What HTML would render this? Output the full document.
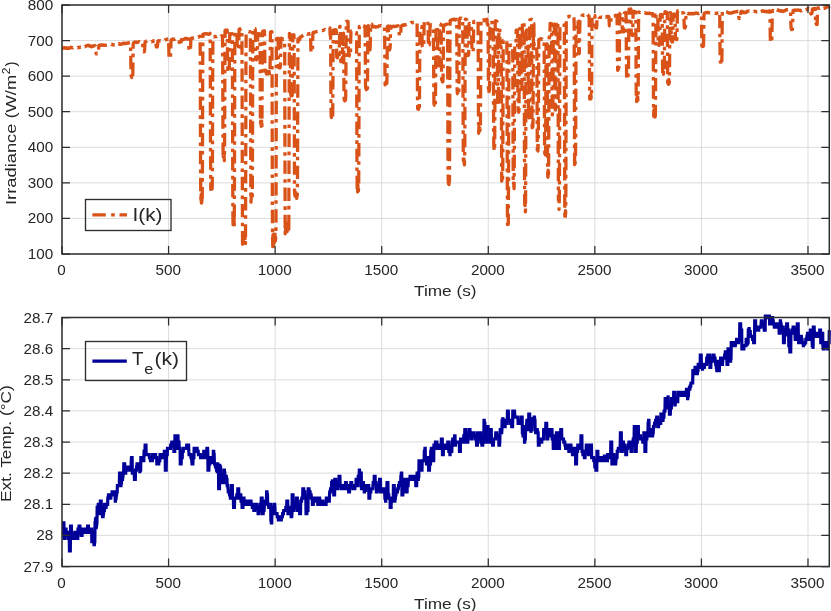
<!DOCTYPE html>
<html><head><meta charset="utf-8"><title>Irradiance and External Temperature</title>
<style>html,body{margin:0;padding:0;background:#fff;}body{width:831px;height:611px;overflow:hidden;font-family:"Liberation Sans",sans-serif;}</style>
</head><body>
<svg width="831" height="611" viewBox="0 0 831 611" style="display:block;will-change:transform"><rect x="0" y="0" width="831" height="611" fill="#fff"/><clipPath id="c1"><rect x="62.0" y="2.0" width="769.3" height="252.0"/></clipPath><clipPath id="c2"><rect x="62.0" y="314.5" width="769.3" height="252.0"/></clipPath><path d="M62.00 5.0V254.0M168.57 5.0V254.0M275.14 5.0V254.0M381.71 5.0V254.0M488.28 5.0V254.0M594.85 5.0V254.0M701.42 5.0V254.0M807.99 5.0V254.0M62.0 254.00H829.3M62.0 218.43H829.3M62.0 182.86H829.3M62.0 147.29H829.3M62.0 111.71H829.3M62.0 76.14H829.3M62.0 40.57H829.3M62.0 5.00H829.3" stroke="#dcdcdc" stroke-width="1" fill="none"/><g clip-path="url(#c1)"><polyline points="62.00,48.15 62.21,48.27 62.43,48.24 62.64,48.30 62.85,48.34 63.07,48.13 63.28,48.14 63.49,48.07 63.71,47.80 63.92,47.64 64.13,47.82 64.34,47.78 64.56,47.73 64.77,47.96 64.98,47.96 65.20,48.25 65.41,48.04 65.62,47.89 65.84,47.76 66.05,47.67 66.26,48.07 66.48,48.02 66.69,48.17 66.90,48.43 67.12,48.56 67.33,48.40 67.54,48.22 67.75,48.23 67.97,48.09 68.18,47.94 68.39,47.91 68.61,47.97 68.82,48.26 69.03,48.40 69.25,48.14 69.46,47.87 69.67,48.00 69.89,48.00 70.10,47.69 70.31,47.52 70.53,47.38 70.74,47.30 70.95,47.17 71.16,47.35 71.38,47.45 71.59,47.40 71.80,47.54 72.02,47.56 72.23,47.56 72.44,47.78 72.66,47.85 72.87,47.63 73.08,47.47 73.30,47.62 73.51,47.82 73.72,47.96 73.94,47.88 74.15,47.97 74.36,47.73 74.58,47.71 74.79,47.82 75.00,47.81 75.21,47.71 75.43,47.77 75.64,47.79 75.85,47.69 76.07,47.69 76.28,47.79 76.49,47.70 76.71,47.83 76.92,47.86 77.13,47.90 77.35,47.86 77.56,47.81 77.77,47.87 77.99,47.75 78.20,47.42 78.41,47.38 78.62,47.25 78.84,47.31 79.05,47.31 79.26,47.48 79.48,47.49 79.69,47.45 79.90,47.22 80.12,47.23 80.33,47.31 80.54,47.21 80.76,47.30 80.97,47.25 81.18,47.14 81.40,47.21 81.61,47.33 81.82,47.33 82.04,47.07 82.25,47.11 82.46,46.92 82.67,46.95 82.89,47.04 83.10,47.05 83.31,46.96 83.53,46.98 83.74,47.13 83.95,47.02 84.17,46.97 84.38,46.94 84.59,47.01 84.81,46.70 85.02,46.53 85.23,46.61 85.45,46.38 85.66,46.14 85.87,46.17 86.08,46.00 86.30,45.98 86.51,45.87 86.72,45.63 86.94,45.45 87.15,45.44 87.36,45.44 87.58,45.39 87.79,45.32 88.00,45.25 88.22,45.43 88.43,45.22 88.64,45.32 88.86,45.59 89.07,45.65 89.28,45.89 89.49,45.65 89.71,45.77 89.92,46.00 90.13,46.22 90.35,46.16 90.56,46.22 90.77,46.49 90.99,46.34 91.20,46.54 91.41,46.64 91.63,46.74 91.84,46.81 92.05,46.60 92.27,46.38 92.48,46.09 92.69,46.26 92.91,46.16 93.12,46.11 93.33,45.89 93.54,45.96 93.76,46.00 93.97,45.85 94.18,45.85 94.40,45.85 94.61,45.66 94.82,45.76 95.04,45.72 95.25,45.94 95.46,46.03 95.68,47.27 95.89,51.04 96.10,53.45 96.32,53.80 96.53,53.60 96.74,53.80 96.95,53.84 97.17,53.88 97.38,53.95 97.59,53.92 97.81,53.90 98.02,53.82 98.23,53.43 98.45,52.15 98.66,48.07 98.87,45.39 99.09,45.63 99.30,45.38 99.51,45.25 99.73,45.07 99.94,45.11 100.15,45.21 100.37,45.16 100.58,45.18 100.79,45.37 101.00,45.01 101.22,45.16 101.43,45.14 101.64,44.99 101.86,45.01 102.07,45.11 102.28,44.93 102.50,45.07 102.71,45.17 102.92,45.26 103.14,45.18 103.35,45.31 103.56,45.19 103.78,45.19 103.99,45.08 104.20,45.19 104.41,45.28 104.63,45.12 104.84,45.13 105.05,45.14 105.27,45.17 105.48,45.16 105.69,45.25 105.91,45.26 106.12,45.22 106.33,45.31 106.55,45.23 106.76,45.20 106.97,45.15 107.19,45.28 107.40,45.24 107.61,44.95 107.82,45.15 108.04,45.14 108.25,45.13 108.46,45.00 108.68,45.18 108.89,44.99 109.10,44.95 109.32,44.74 109.53,44.59 109.74,44.42 109.96,44.42 110.17,44.51 110.38,44.47 110.60,44.57 110.81,44.71 111.02,44.45 111.24,44.43 111.45,44.40 111.66,44.64 111.87,44.57 112.09,44.43 112.30,44.47 112.51,44.75 112.73,44.76 112.94,44.71 113.15,44.75 113.37,44.63 113.58,44.68 113.79,44.56 114.01,44.74 114.22,44.88 114.43,44.79 114.65,44.77 114.86,44.72 115.07,44.56 115.28,44.68 115.50,44.38 115.71,44.30 115.92,44.22 116.14,44.03 116.35,43.79 116.56,43.80 116.78,43.80 116.99,43.78 117.20,43.66 117.42,43.47 117.63,43.39 117.84,43.40 118.06,43.34 118.27,43.38 118.48,43.55 118.69,43.67 118.91,43.52 119.12,43.67 119.33,44.08 119.55,44.25 119.76,44.44 119.97,44.28 120.19,44.30 120.40,44.22 120.61,44.15 120.83,44.30 121.04,44.29 121.25,44.21 121.47,44.19 121.68,44.18 121.89,44.13 122.11,44.00 122.32,43.80 122.53,43.46 122.74,43.59 122.96,43.43 123.17,43.38 123.38,43.27 123.60,43.57 123.81,43.66 124.02,43.54 124.24,43.45 124.45,43.52 124.66,43.53 124.88,43.27 125.09,43.26 125.30,43.47 125.52,43.52 125.73,43.45 125.94,43.42 126.15,43.45 126.37,43.50 126.58,43.52 126.79,43.23 127.01,43.20 127.22,43.12 127.43,43.11 127.65,42.87 127.86,42.87 128.07,42.80 128.29,42.89 128.50,42.80 128.71,42.98 128.93,43.02 129.14,42.73 129.35,42.56 129.57,42.45 129.78,42.40 129.99,42.40 130.20,42.54 130.42,42.85 130.63,45.12 130.84,62.03 131.06,75.76 131.27,75.75 131.48,76.07 131.70,77.59 131.91,75.96 132.12,76.71 132.34,76.69 132.55,76.35 132.76,77.06 132.98,60.53 133.19,44.04 133.40,42.99 133.61,42.82 133.83,42.81 134.04,42.42 134.25,42.20 134.47,42.26 134.68,42.43 134.89,42.19 135.11,42.22 135.32,42.28 135.53,42.27 135.75,42.46 135.96,42.52 136.17,42.31 136.39,42.03 136.60,42.19 136.81,42.15 137.02,42.26 137.24,42.42 137.45,42.39 137.66,42.28 137.88,42.22 138.09,42.11 138.30,41.87 138.52,42.02 138.73,41.97 138.94,41.80 139.16,41.77 139.37,41.90 139.58,42.12 139.80,41.89 140.01,41.84 140.22,41.59 140.44,41.58 140.65,41.57 140.86,41.64 141.07,41.89 141.29,42.31 141.50,42.45 141.71,42.52 141.93,42.37 142.14,42.36 142.35,42.37 142.57,42.16 142.78,46.11 142.99,50.75 143.21,51.56 143.42,51.49 143.63,51.73 143.85,51.87 144.06,51.51 144.27,51.80 144.48,51.30 144.70,48.69 144.91,43.81 145.12,41.86 145.34,41.84 145.55,41.52 145.76,41.60 145.98,41.29 146.19,41.38 146.40,41.21 146.62,41.12 146.83,40.96 147.04,40.64 147.26,40.71 147.47,40.79 147.68,40.74 147.89,40.56 148.11,40.68 148.32,40.71 148.53,40.70 148.75,41.03 148.96,40.99 149.17,41.19 149.39,41.17 149.60,41.27 149.81,41.33 150.03,41.30 150.24,41.52 150.45,41.74 150.67,41.71 150.88,41.79 151.09,41.81 151.31,41.77 151.52,41.81 151.73,41.85 151.94,41.49 152.16,41.49 152.37,41.31 152.58,41.24 152.80,41.11 153.01,41.07 153.22,41.17 153.44,41.27 153.65,40.72 153.86,40.76 154.08,40.71 154.29,40.74 154.50,40.60 154.72,40.39 154.93,40.16 155.14,40.52 155.35,40.68 155.57,40.77 155.78,41.82 155.99,44.84 156.21,46.58 156.42,46.84 156.63,46.78 156.85,46.81 157.06,46.60 157.27,46.93 157.49,46.49 157.70,43.58 157.91,40.82 158.13,40.95 158.34,40.75 158.55,40.73 158.77,40.80 158.98,40.85 159.19,40.93 159.40,40.89 159.62,40.74 159.83,40.65 160.04,40.69 160.26,40.61 160.47,40.74 160.68,40.57 160.90,40.51 161.11,40.72 161.32,40.61 161.54,40.54 161.75,40.49 161.96,40.49 162.18,40.48 162.39,40.22 162.60,40.28 162.81,40.49 163.03,40.34 163.24,40.38 163.45,40.37 163.67,40.24 163.88,40.34 164.09,40.11 164.31,40.01 164.52,40.19 164.73,40.34 164.95,40.15 165.16,39.82 165.37,39.68 165.59,39.61 165.80,39.73 166.01,39.52 166.22,39.60 166.44,39.39 166.65,39.29 166.86,39.33 167.08,39.12 167.29,39.42 167.50,39.29 167.72,39.05 167.93,39.05 168.14,39.28 168.36,39.59 168.57,39.66 168.78,47.43 169.00,56.23 169.21,58.33 169.42,58.46 169.64,58.00 169.85,57.43 170.06,58.00 170.27,57.35 170.49,57.55 170.70,52.27 170.91,43.44 171.13,39.80 171.34,39.58 171.55,39.41 171.77,39.54 171.98,39.35 172.19,39.12 172.41,39.08 172.62,39.02 172.83,39.12 173.05,39.29 173.26,39.23 173.47,39.43 173.68,39.17 173.90,39.16 174.11,39.16 174.32,39.06 174.54,39.17 174.75,39.22 174.96,38.90 175.18,38.92 175.39,39.13 175.60,39.20 175.82,39.13 176.03,39.08 176.24,38.86 176.46,39.13 176.67,39.08 176.88,39.26 177.09,39.30 177.31,39.48 177.52,39.65 177.73,39.53 177.95,39.53 178.16,39.73 178.37,39.97 178.59,39.85 178.80,39.66 179.01,39.79 179.23,41.49 179.44,44.17 179.65,45.25 179.87,45.37 180.08,45.32 180.29,45.17 180.51,45.22 180.72,45.26 180.93,44.45 181.14,41.59 181.36,39.62 181.57,39.65 181.78,39.77 182.00,39.81 182.21,39.84 182.42,39.65 182.64,39.70 182.85,39.68 183.06,39.58 183.28,39.67 183.49,39.49 183.70,39.58 183.92,39.40 184.13,39.36 184.34,39.28 184.55,38.94 184.77,38.56 184.98,38.53 185.19,38.39 185.41,38.38 185.62,38.55 185.83,38.43 186.05,38.66 186.26,38.78 186.47,38.82 186.69,38.74 186.90,38.63 187.11,38.54 187.33,38.59 187.54,38.64 187.75,38.81 187.97,39.06 188.18,39.01 188.39,39.11 188.60,41.83 188.82,47.46 189.03,50.51 189.24,50.93 189.46,50.97 189.67,50.68 189.88,50.78 190.10,50.89 190.31,50.39 190.52,48.97 190.74,43.04 190.95,38.59 191.16,38.49 191.38,38.52 191.59,38.40 191.80,38.25 192.01,38.00 192.23,38.11 192.44,38.14 192.65,38.08 192.87,38.24 193.08,38.07 193.29,38.10 193.51,37.88 193.72,37.96 193.93,37.99 194.15,37.84 194.36,37.91 194.57,37.81 194.79,37.90 195.00,38.09 195.21,38.13 195.42,38.13 195.64,38.15 195.85,38.10 196.06,38.03 196.28,38.04 196.49,38.30 196.70,38.06 196.92,37.84 197.13,37.65 197.34,37.78 197.56,37.71 197.77,37.65 197.98,37.47 198.20,37.25 198.41,37.28 198.62,37.14 198.84,36.77 199.05,36.60 199.26,36.50 199.47,36.56 199.69,36.31 199.90,36.49 200.11,36.38 200.33,83.68 200.54,162.77 200.75,194.07 200.97,201.27 201.18,194.39 201.39,203.06 201.61,199.96 201.82,203.08 202.03,194.78 202.25,197.96 202.46,162.75 202.67,82.52 202.88,34.28 203.10,34.18 203.31,34.26 203.52,34.16 203.74,34.32 203.95,34.15 204.16,34.04 204.38,33.98 204.59,34.07 204.80,33.76 205.02,33.72 205.23,33.69 205.44,33.94 205.66,33.96 205.87,33.97 206.08,33.63 206.30,33.77 206.51,33.85 206.72,33.82 206.93,33.84 207.15,33.95 207.36,34.05 207.57,34.05 207.79,33.88 208.00,34.14 208.21,34.28 208.43,34.36 208.64,34.44 208.85,34.29 209.07,33.98 209.28,34.10 209.49,34.11 209.71,33.81 209.92,33.74 210.13,33.35 210.34,83.87 210.56,158.35 210.77,189.46 210.98,184.20 211.20,180.29 211.41,180.28 211.62,185.02 211.84,183.17 212.05,189.15 212.26,187.12 212.48,147.47 212.69,74.48 212.90,36.80 213.12,36.74 213.33,36.85 213.54,36.88 213.75,36.76 213.97,36.87 214.18,36.70 214.39,36.61 214.61,36.48 214.82,36.33 215.03,36.37 215.25,36.60 215.46,36.72 215.67,36.73 215.89,36.46 216.10,36.57 216.31,36.63 216.53,36.63 216.74,36.41 216.95,36.26 217.17,36.37 217.38,36.49 217.59,36.31 217.80,36.33 218.02,36.71 218.23,36.69 218.44,36.69 218.66,36.47 218.87,36.51 219.08,36.53 219.30,36.35 219.51,36.48 219.72,36.48 219.94,36.47 220.15,36.42 220.36,36.26 220.58,36.23 220.79,36.25 221.00,36.29 221.21,35.94 221.43,36.06 221.64,35.99 221.85,35.93 222.07,35.91 222.28,36.07 222.49,35.99 222.71,65.77 222.92,125.86 223.13,158.53 223.35,155.03 223.56,160.65 223.77,160.37 223.99,153.25 224.20,157.52 224.41,160.56 224.62,140.48 224.84,77.91 225.05,30.40 225.26,30.31 225.48,30.15 225.69,30.07 225.90,30.20 226.12,30.06 226.33,30.03 226.54,30.18 226.76,30.33 226.97,30.26 227.18,30.18 227.40,39.14 227.61,58.90 227.82,69.41 228.04,69.24 228.25,71.00 228.46,69.79 228.67,70.26 228.89,70.49 229.10,70.79 229.31,66.58 229.53,48.57 229.74,33.86 229.95,33.75 230.17,33.85 230.38,34.08 230.59,34.09 230.81,34.03 231.02,33.98 231.23,33.88 231.45,34.02 231.66,33.79 231.87,33.70 232.08,33.65 232.30,33.74 232.51,82.39 232.72,175.62 232.94,217.94 233.15,227.96 233.36,221.03 233.58,224.79 233.79,223.43 234.00,217.41 234.22,227.27 234.43,195.59 234.64,101.15 234.86,31.60 235.07,31.79 235.28,31.86 235.50,31.69 235.71,31.74 235.92,31.74 236.13,31.87 236.35,32.08 236.56,32.25 236.77,32.04 236.99,35.57 237.20,44.13 237.41,48.84 237.63,48.82 237.84,49.52 238.05,49.97 238.27,49.72 238.48,48.94 238.69,48.05 238.91,38.16 239.12,29.17 239.33,29.24 239.54,29.27 239.76,29.12 239.97,29.24 240.18,29.19 240.40,28.98 240.61,29.12 240.82,28.91 241.04,28.60 241.25,28.41 241.46,28.41 241.68,28.39 241.89,28.50 242.10,77.84 242.32,180.86 242.53,244.19 242.74,233.42 242.95,235.70 243.17,242.42 243.38,243.46 243.59,233.09 243.81,237.48 244.02,240.64 244.23,232.66 244.45,234.47 244.66,234.47 244.87,239.01 245.09,241.03 245.30,238.85 245.51,243.49 245.73,162.42 245.94,61.13 246.15,32.04 246.37,31.79 246.58,31.80 246.79,31.85 247.00,31.83 247.22,31.81 247.43,31.63 247.64,31.44 247.86,31.61 248.07,31.38 248.28,31.43 248.50,31.40 248.71,31.55 248.92,31.56 249.14,31.65 249.35,31.76 249.56,31.79 249.78,31.53 249.99,31.55 250.20,31.82 250.41,37.53 250.63,119.47 250.84,201.27 251.05,202.16 251.27,196.65 251.48,195.08 251.69,193.92 251.91,194.15 252.12,200.11 252.33,195.51 252.55,127.77 252.76,44.39 252.97,28.63 253.19,28.58 253.40,28.40 253.61,28.23 253.82,28.31 254.04,28.32 254.25,28.43 254.46,28.51 254.68,28.72 254.89,28.79 255.10,28.75 255.32,30.17 255.53,44.89 255.74,59.53 255.96,58.73 256.17,57.83 256.38,59.89 256.60,58.78 256.81,59.01 257.02,58.29 257.24,58.42 257.45,48.25 257.66,35.73 257.87,33.54 258.09,33.59 258.30,33.54 258.51,33.40 258.73,33.53 258.94,33.62 259.15,33.71 259.37,33.93 259.58,33.99 259.79,33.86 260.01,35.22 260.22,79.48 260.43,123.73 260.65,121.24 260.86,126.39 261.07,122.64 261.28,126.41 261.50,124.73 261.71,121.08 261.92,127.36 262.14,87.42 262.35,41.92 262.56,31.35 262.78,31.43 262.99,31.46 263.20,31.23 263.42,31.18 263.63,30.99 263.84,31.11 264.06,31.10 264.27,30.98 264.48,30.92 264.70,44.82 264.91,65.22 265.12,73.45 265.33,71.12 265.55,71.23 265.76,71.70 265.97,72.77 266.19,71.55 266.40,73.61 266.61,73.98 266.83,71.70 267.04,71.25 267.25,73.78 267.47,72.95 267.68,73.23 267.89,72.73 268.11,73.93 268.32,72.31 268.53,73.50 268.74,71.16 268.96,72.07 269.17,71.38 269.38,73.49 269.60,71.39 269.81,71.50 270.02,71.78 270.24,51.82 270.45,32.05 270.66,32.03 270.88,31.83 271.09,31.71 271.30,31.70 271.52,31.63 271.73,31.58 271.94,31.67 272.15,105.78 272.37,207.80 272.58,239.34 272.79,246.70 273.01,232.69 273.22,243.56 273.43,246.22 273.65,234.20 273.86,237.90 274.07,243.05 274.29,235.26 274.50,236.01 274.71,241.15 274.93,232.34 275.14,241.26 275.35,240.92 275.57,239.90 275.78,235.68 275.99,227.52 276.20,127.47 276.42,35.57 276.63,35.75 276.84,35.95 277.06,36.17 277.27,36.03 277.48,36.18 277.70,36.10 277.91,35.98 278.12,41.09 278.34,56.28 278.55,66.33 278.76,67.70 278.98,67.74 279.19,66.94 279.40,67.89 279.61,67.97 279.83,67.99 280.04,67.69 280.25,65.94 280.47,66.62 280.68,56.01 280.89,42.03 281.11,38.26 281.32,38.42 281.53,38.45 281.75,38.34 281.96,38.48 282.17,38.57 282.39,38.67 282.60,38.94 282.81,38.97 283.03,39.04 283.24,39.26 283.45,39.34 283.66,39.21 283.88,39.28 284.09,39.19 284.30,39.50 284.52,39.47 284.73,52.54 284.94,145.23 285.16,233.76 285.37,226.51 285.58,226.21 285.80,231.44 286.01,227.76 286.22,233.87 286.44,228.79 286.65,232.73 286.86,224.76 287.07,231.70 287.29,223.08 287.50,226.85 287.71,230.40 287.93,223.58 288.14,223.47 288.35,227.88 288.57,223.98 288.78,231.76 288.99,170.77 289.21,75.21 289.42,33.32 289.63,33.65 289.85,33.83 290.06,33.95 290.27,34.24 290.48,61.40 290.70,92.46 290.91,99.03 291.12,97.81 291.34,95.55 291.55,97.96 291.76,99.22 291.98,99.22 292.19,98.24 292.40,77.93 292.62,47.09 292.83,34.95 293.04,35.06 293.26,35.14 293.47,35.06 293.68,34.92 293.90,34.66 294.11,38.02 294.32,115.90 294.53,193.67 294.75,191.18 294.96,195.98 295.17,193.31 295.39,192.06 295.60,190.67 295.81,194.17 296.03,197.26 296.24,193.81 296.45,197.16 296.67,198.38 296.88,195.05 297.09,196.20 297.31,195.65 297.52,174.90 297.73,99.00 297.94,38.84 298.16,38.81 298.37,39.09 298.58,39.26 298.80,39.25 299.01,39.34 299.22,39.46 299.44,39.56 299.65,39.73 299.86,39.62 300.08,37.07 300.29,37.08 300.50,36.83 300.72,36.73 300.93,36.63 301.14,36.71 301.35,36.62 301.57,36.42 301.78,36.21 301.99,36.23 302.21,36.34 302.42,35.93 302.63,35.73 302.85,35.40 303.06,35.37 303.27,34.97 303.49,34.86 303.70,34.75 303.91,34.75 304.13,34.63 304.34,34.56 304.55,34.49 304.77,34.47 304.98,34.35 305.19,34.34 305.40,33.97 305.62,34.25 305.83,34.01 306.04,34.04 306.26,33.93 306.47,34.13 306.68,33.85 306.90,33.97 307.11,33.77 307.32,33.99 307.54,33.96 307.75,33.88 307.96,33.83 308.18,34.08 308.39,34.04 308.60,33.89 308.81,33.82 309.03,34.11 309.24,33.94 309.45,34.08 309.67,33.81 309.88,33.92 310.09,33.69 310.31,33.72 310.52,34.33 310.73,42.98 310.95,51.84 311.16,51.10 311.37,51.12 311.59,51.80 311.80,51.52 312.01,51.59 312.23,51.27 312.44,51.42 312.65,43.26 312.86,34.08 313.08,32.47 313.29,32.39 313.50,32.34 313.72,32.25 313.93,32.41 314.14,32.26 314.36,32.25 314.57,32.21 314.78,32.08 315.00,32.11 315.21,32.10 315.42,32.06 315.64,31.92 315.85,31.76 316.06,31.69 316.27,31.69 316.49,31.73 316.70,31.69 316.91,31.45 317.13,31.32 317.34,31.31 317.55,31.30 317.77,31.26 317.98,31.14 318.19,31.04 318.41,31.15 318.62,31.04 318.83,31.25 319.05,31.24 319.26,31.19 319.47,31.27 319.68,31.14 319.90,31.00 320.11,31.24 320.32,31.25 320.54,31.33 320.75,31.25 320.96,31.22 321.18,31.06 321.39,30.86 321.60,30.87 321.82,30.83 322.03,30.61 322.24,30.56 322.46,30.69 322.67,30.53 322.88,30.40 323.10,30.46 323.31,30.30 323.52,30.23 323.73,29.88 323.95,29.90 324.16,29.78 324.37,29.68 324.59,29.65 324.80,29.52 325.01,29.69 325.23,29.70 325.44,29.75 325.65,29.40 325.87,29.31 326.08,29.38 326.29,29.17 326.51,29.00 326.72,28.93 326.93,28.86 327.14,28.67 327.36,28.70 327.57,28.53 327.78,28.48 328.00,28.34 328.21,28.19 328.42,27.98 328.64,27.98 328.85,28.05 329.06,28.07 329.28,28.04 329.49,28.18 329.70,28.23 329.92,27.91 330.13,35.27 330.34,35.16 330.56,35.02 330.77,66.17 330.98,105.33 331.19,115.61 331.41,117.55 331.62,115.68 331.83,112.81 332.05,116.39 332.26,113.20 332.47,113.61 332.69,117.63 332.90,88.63 333.11,47.06 333.33,30.03 333.54,29.98 333.75,30.04 333.97,29.92 334.18,29.99 334.39,29.95 334.60,30.06 334.82,30.19 335.03,30.08 335.24,29.98 335.46,29.73 335.67,29.63 335.88,29.71 336.10,29.99 336.31,30.31 336.52,43.71 336.74,57.12 336.95,56.24 337.16,56.91 337.38,57.77 337.59,56.85 337.80,57.65 338.01,57.42 338.23,57.79 338.44,55.93 338.65,56.89 338.87,56.84 339.08,57.41 339.29,54.93 339.51,39.88 339.72,26.36 339.93,26.60 340.15,26.53 340.36,39.11 340.57,55.88 340.79,61.58 341.00,61.35 341.21,59.77 341.43,61.39 341.64,60.50 341.85,60.41 342.06,60.51 342.28,61.29 342.49,53.12 342.70,39.79 342.92,33.74 343.13,33.53 343.34,33.32 343.56,33.25 343.77,59.60 343.98,92.55 344.20,101.84 344.41,99.06 344.62,100.44 344.84,100.85 345.05,100.83 345.26,100.21 345.47,100.15 345.69,97.89 345.90,75.62 346.11,36.85 346.33,21.33 346.54,21.39 346.75,21.35 346.97,21.13 347.18,21.34 347.39,21.41 347.61,21.54 347.82,21.63 348.03,21.53 348.25,32.54 348.46,48.99 348.67,55.31 348.88,55.56 349.10,53.81 349.31,54.09 349.52,55.96 349.74,55.65 349.95,54.74 350.16,54.81 350.38,55.51 350.59,48.29 350.80,36.49 351.02,31.07 351.23,31.06 351.44,30.97 351.66,31.05 351.87,31.24 352.08,31.35 352.30,31.39 352.51,31.36 352.72,31.41 352.93,31.37 353.15,31.76 353.36,31.74 353.57,31.90 353.79,31.95 354.00,31.88 354.21,31.88 354.43,32.04 354.64,32.34 354.85,32.31 355.07,32.06 355.28,32.13 355.49,32.02 355.71,32.35 355.92,32.55 356.13,32.76 356.34,32.66 356.56,32.60 356.77,94.48 356.98,171.32 357.20,189.51 357.41,183.98 357.62,191.96 357.84,184.68 358.05,193.90 358.26,191.84 358.48,189.77 358.69,183.37 358.90,137.91 359.12,57.98 359.33,26.29 359.54,26.42 359.76,26.52 359.97,26.39 360.18,26.18 360.39,26.00 360.61,26.16 360.82,26.17 361.03,26.64 361.25,26.96 361.46,26.82 361.67,26.70 361.89,26.55 362.10,26.71 362.31,26.83 362.53,26.88 362.74,26.53 362.95,26.53 363.17,26.13 363.38,26.20 363.59,26.36 363.80,26.42 364.02,26.32 364.23,26.04 364.44,25.96 364.66,26.16 364.87,26.26 365.08,26.35 365.30,54.53 365.51,85.20 365.72,88.38 365.94,88.17 366.15,89.02 366.36,89.69 366.58,88.25 366.79,90.10 367.00,87.36 367.21,87.04 367.43,88.68 367.64,63.18 367.85,32.18 368.07,25.54 368.28,25.71 368.49,30.66 368.71,42.21 368.92,48.43 369.13,48.63 369.35,49.67 369.56,49.19 369.77,49.16 369.99,49.87 370.20,47.27 370.41,35.29 370.63,24.55 370.84,24.38 371.05,24.40 371.26,24.56 371.48,24.31 371.69,24.22 371.90,24.22 372.12,26.88 372.33,26.65 372.54,26.69 372.76,26.49 372.97,26.56 373.18,26.76 373.40,26.69 373.61,26.75 373.82,26.68 374.04,26.62 374.25,26.58 374.46,26.51 374.67,26.51 374.89,26.55 375.10,26.68 375.31,26.75 375.53,27.16 375.74,27.05 375.95,27.15 376.17,27.03 376.38,26.84 376.59,26.88 376.81,26.79 377.02,26.73 377.23,26.73 377.45,26.56 377.66,26.61 377.87,26.54 378.08,26.70 378.30,26.53 378.51,26.46 378.72,26.17 378.94,25.94 379.15,25.91 379.36,26.03 379.58,25.96 379.79,25.92 380.00,25.78 380.22,25.77 380.43,25.81 380.64,25.72 380.86,25.60 381.07,25.78 381.28,25.58 381.50,25.66 381.71,25.80 381.92,25.87 382.13,26.06 382.35,25.95 382.56,25.91 382.77,26.11 382.99,26.19 383.20,26.07 383.41,26.29 383.63,26.27 383.84,26.54 384.05,26.43 384.27,26.16 384.48,26.22 384.69,38.32 384.91,66.43 385.12,84.94 385.33,83.72 385.54,85.07 385.76,84.82 385.97,84.44 386.18,81.47 386.40,82.15 386.61,82.74 386.82,83.36 387.04,74.12 387.25,46.01 387.46,26.44 387.68,26.18 387.89,26.30 388.10,26.28 388.32,25.96 388.53,32.77 388.74,44.19 388.96,49.16 389.17,49.89 389.38,48.68 389.59,49.96 389.81,48.81 390.02,48.61 390.23,45.56 390.45,34.31 390.66,26.24 390.87,26.33 391.09,26.47 391.30,26.49 391.51,26.76 391.73,26.82 391.94,26.75 392.15,26.73 392.37,26.95 392.58,26.72 392.79,26.75 393.00,26.61 393.22,26.31 393.43,26.12 393.64,26.06 393.86,26.33 394.07,26.57 394.28,26.37 394.50,26.40 394.71,26.47 394.92,26.44 395.14,26.38 395.35,26.45 395.56,26.36 395.78,26.45 395.99,26.18 396.20,26.18 396.41,26.36 396.63,26.29 396.84,26.28 397.05,25.91 397.27,25.89 397.48,25.94 397.69,25.97 397.91,25.91 398.12,25.78 398.33,25.89 398.55,26.09 398.76,26.21 398.97,27.72 399.19,32.32 399.40,35.58 399.61,35.65 399.83,35.32 400.04,35.59 400.25,35.15 400.46,35.34 400.68,35.10 400.89,30.52 401.10,26.19 401.32,26.29 401.53,26.14 401.74,25.75 401.96,25.48 402.17,25.34 402.38,25.16 402.60,25.01 402.81,24.98 403.02,24.98 403.24,24.81 403.45,24.90 403.66,25.32 403.87,25.34 404.09,25.17 404.30,24.95 404.51,24.62 404.73,24.75 404.94,24.65 405.15,24.61 405.37,24.59 405.58,24.82 405.79,24.86 406.01,24.87 406.22,24.84 406.43,24.66 406.65,24.67 406.86,24.31 407.07,24.09 407.29,24.00 407.50,23.78 407.71,23.97 407.92,23.76 408.14,23.95 408.35,24.01 408.56,23.88 408.78,23.56 408.99,23.61 409.20,23.25 409.42,22.92 409.63,22.93 409.84,22.85 410.06,22.90 410.27,23.01 410.48,23.03 410.70,22.82 410.91,22.67 411.12,22.51 411.33,22.39 411.55,22.32 411.76,22.34 411.97,22.42 412.19,22.38 412.40,22.57 412.61,22.79 412.83,22.77 413.04,22.51 413.25,22.48 413.47,22.58 413.68,22.66 413.89,22.82 414.11,22.87 414.32,22.97 414.53,22.87 414.74,22.75 414.96,22.73 415.17,22.90 415.38,22.96 415.60,23.11 415.81,23.00 416.02,22.78 416.24,22.93 416.45,22.97 416.66,22.80 416.88,22.82 417.09,22.79 417.30,61.82 417.52,102.81 417.73,108.86 417.94,107.12 418.16,106.10 418.37,108.37 418.58,109.29 418.79,105.79 419.01,105.66 419.22,109.15 419.43,107.08 419.65,73.31 419.86,34.29 420.07,27.02 420.29,27.11 420.50,26.84 420.71,26.79 420.93,26.84 421.14,26.77 421.35,26.75 421.57,26.69 421.78,26.61 421.99,35.63 422.20,45.81 422.42,46.91 422.63,47.48 422.84,47.81 423.06,47.25 423.27,46.99 423.48,47.18 423.70,46.66 423.91,38.38 424.12,25.65 424.34,21.01 424.55,21.07 424.76,21.17 424.98,21.34 425.19,21.50 425.40,21.53 425.61,21.37 425.83,21.52 426.04,21.76 426.25,21.60 426.47,21.69 426.68,21.73 426.89,21.69 427.11,21.62 427.32,21.61 427.53,21.76 427.75,21.79 427.96,21.64 428.17,30.98 428.39,42.51 428.60,45.14 428.81,44.40 429.03,45.85 429.24,44.58 429.45,44.69 429.66,40.70 429.88,30.76 430.09,25.04 430.30,25.02 430.52,25.00 430.73,24.85 430.94,24.72 431.16,24.79 431.37,24.97 431.58,25.06 431.80,25.08 432.01,25.05 432.22,25.27 432.44,25.18 432.65,25.31 432.86,25.43 433.07,25.58 433.29,25.65 433.50,34.83 433.71,72.84 433.93,103.40 434.14,104.19 434.35,105.18 434.57,103.91 434.78,102.67 434.99,104.18 435.21,104.34 435.42,104.83 435.63,82.52 435.85,44.81 436.06,26.16 436.27,26.26 436.49,26.21 436.70,26.48 436.91,26.58 437.12,26.41 437.34,26.46 437.55,39.65 437.76,58.43 437.98,64.31 438.19,64.51 438.40,65.05 438.62,65.83 438.83,63.81 439.04,64.47 439.26,56.18 439.47,36.28 439.68,24.15 439.90,24.05 440.11,24.19 440.32,24.17 440.53,24.07 440.75,24.07 440.96,24.05 441.17,33.60 441.39,61.02 441.60,80.89 441.81,79.97 442.03,80.51 442.24,78.54 442.45,81.92 442.67,80.45 442.88,81.84 443.09,76.67 443.31,49.68 443.52,25.29 443.73,25.17 443.94,25.17 444.16,25.03 444.37,24.95 444.58,24.96 444.80,25.12 445.01,25.09 445.22,25.05 445.44,24.69 445.65,24.35 445.86,24.29 446.08,24.31 446.29,24.36 446.50,24.48 446.72,24.17 446.93,24.28 447.14,24.12 447.36,24.43 447.57,24.46 447.78,90.12 447.99,167.28 448.21,179.82 448.42,183.73 448.63,177.76 448.85,181.49 449.06,184.56 449.27,176.83 449.49,181.31 449.70,131.79 449.91,52.64 450.13,20.53 450.34,20.54 450.55,20.26 450.77,20.30 450.98,20.39 451.19,20.29 451.40,20.08 451.62,19.90 451.83,19.84 452.04,19.64 452.26,19.56 452.47,19.56 452.68,19.65 452.90,19.48 453.11,19.59 453.32,19.27 453.54,19.46 453.75,19.46 453.96,19.25 454.18,19.16 454.39,19.38 454.60,19.46 454.81,19.79 455.03,20.05 455.24,20.07 455.45,19.89 455.67,19.68 455.88,19.50 456.09,19.59 456.31,19.32 456.52,19.45 456.73,25.09 456.95,60.80 457.16,89.89 457.37,93.74 457.59,90.42 457.80,94.47 458.01,93.01 458.23,92.13 458.44,91.78 458.65,91.30 458.86,92.53 459.08,56.44 459.29,20.29 459.50,18.91 459.72,18.59 459.93,18.19 460.14,18.29 460.36,18.33 460.57,18.49 460.78,18.34 461.00,18.24 461.21,18.08 461.42,18.13 461.64,18.31 461.85,18.31 462.06,18.13 462.27,17.98 462.49,17.91 462.70,17.84 462.91,55.84 463.13,126.99 463.34,162.08 463.55,164.14 463.77,162.28 463.98,159.00 464.19,160.15 464.41,164.87 464.62,159.55 464.83,140.65 465.05,70.20 465.26,19.20 465.47,19.46 465.69,19.60 465.90,19.31 466.11,19.45 466.32,19.48 466.54,19.59 466.75,19.70 466.96,24.84 467.18,42.07 467.39,53.81 467.60,55.70 467.82,53.76 468.03,53.76 468.24,55.33 468.46,54.24 468.67,54.62 468.88,39.08 469.10,23.90 469.31,23.45 469.52,23.35 469.73,23.67 469.95,23.47 470.16,23.42 470.37,23.38 470.59,23.35 470.80,23.34 471.01,23.35 471.23,23.53 471.44,23.52 471.65,33.37 471.87,46.75 472.08,50.29 472.29,51.19 472.51,50.40 472.72,49.89 472.93,50.28 473.14,51.31 473.36,44.67 473.57,30.13 473.78,21.37 474.00,21.39 474.21,21.40 474.42,21.31 474.64,21.46 474.85,21.48 475.06,21.48 475.28,21.44 475.49,21.35 475.70,21.40 475.92,21.43 476.13,21.56 476.34,21.50 476.56,21.57 476.77,21.74 476.98,22.05 477.19,22.08 477.41,21.96 477.62,21.76 477.83,21.54 478.05,21.25 478.26,61.33 478.47,114.78 478.69,133.29 478.90,126.79 479.11,129.43 479.33,130.64 479.54,130.57 479.75,127.56 479.97,130.73 480.18,128.30 480.39,129.28 480.60,94.55 480.82,40.26 481.03,19.45 481.24,19.54 481.46,19.80 481.67,20.11 481.88,20.31 482.10,20.30 482.31,20.23 482.52,20.14 482.74,20.21 482.95,20.01 483.16,19.95 483.38,20.08 483.59,20.22 483.80,20.49 484.01,20.78 484.23,20.73 484.44,20.60 484.65,20.25 484.87,20.00 485.08,19.80 485.29,19.63 485.51,19.61 485.72,19.50 485.93,19.50 486.15,19.78 486.36,19.69 486.57,19.74 486.79,19.45 487.00,19.32 487.21,23.84 487.43,23.73 487.64,23.67 487.85,24.02 488.06,26.19 488.28,59.88 488.49,93.57 488.70,92.89 488.92,90.72 489.13,91.56 489.34,90.18 489.56,85.85 489.77,51.38 489.98,22.24 490.20,22.41 490.41,22.46 490.62,22.69 490.84,22.75 491.05,22.47 491.26,22.60 491.47,22.67 491.69,22.79 491.90,22.60 492.11,22.60 492.33,22.50 492.54,22.66 492.75,22.62 492.97,22.55 493.18,22.96 493.39,64.71 493.61,127.18 493.82,146.40 494.03,148.57 494.25,151.42 494.46,147.83 494.67,146.03 494.89,99.66 495.10,36.26 495.31,20.81 495.52,20.83 495.74,20.77 495.95,20.85 496.16,21.16 496.38,20.99 496.59,21.12 496.80,21.09 497.02,21.32 497.23,36.20 497.44,75.78 497.66,104.81 497.87,102.73 498.08,100.32 498.30,104.42 498.51,86.65 498.72,50.56 498.93,28.90 499.15,28.86 499.36,28.70 499.57,28.51 499.79,28.22 500.00,46.40 500.21,46.30 500.43,46.50 500.64,46.57 500.85,46.49 501.07,46.50 501.28,55.42 501.49,121.90 501.71,181.16 501.92,178.41 502.13,179.63 502.34,181.57 502.56,182.00 502.77,163.47 502.98,94.03 503.20,40.40 503.41,40.47 503.62,40.25 503.84,40.38 504.05,40.51 504.26,40.52 504.48,40.64 504.69,40.70 504.90,40.86 505.12,41.15 505.33,41.28 505.54,41.17 505.76,41.42 505.97,41.30 506.18,41.47 506.39,41.30 506.61,41.08 506.82,40.99 507.03,75.61 507.25,163.74 507.46,224.60 507.67,222.24 507.89,219.94 508.10,219.89 508.31,224.23 508.53,176.13 508.74,90.27 508.95,45.26 509.17,45.43 509.38,45.27 509.59,45.36 509.80,45.63 510.02,45.50 510.23,45.59 510.44,45.51 510.66,45.54 510.87,45.44 511.08,45.18 511.30,45.11 511.51,45.14 511.72,45.25 511.94,45.34 512.15,45.27 512.36,45.25 512.58,45.48 512.79,58.13 513.00,127.17 513.22,181.34 513.43,184.48 513.64,183.25 513.85,185.22 514.07,188.69 514.28,165.14 514.49,96.06 514.71,45.61 514.92,45.45 515.13,45.16 515.35,45.51 515.56,45.44 515.77,45.31 515.99,45.32 516.20,30.21 516.41,30.18 516.63,30.23 516.84,30.23 517.05,30.00 517.26,30.04 517.48,30.26 517.69,56.84 517.90,96.87 518.12,111.20 518.33,110.49 518.54,112.43 518.76,109.52 518.97,114.66 519.18,79.84 519.40,38.78 519.61,28.51 519.82,28.47 520.04,28.50 520.25,28.37 520.46,28.49 520.67,31.77 520.89,61.00 521.10,89.50 521.31,89.08 521.53,89.25 521.74,89.23 521.95,81.93 522.17,49.76 522.38,22.00 522.59,22.09 522.81,22.04 523.02,21.86 523.23,21.81 523.45,22.03 523.66,21.88 523.87,21.78 524.09,21.64 524.30,84.80 524.51,175.46 524.72,204.91 524.94,205.58 525.15,205.05 525.36,211.86 525.58,208.55 525.79,135.99 526.00,49.49 526.22,30.64 526.43,30.44 526.64,30.03 526.86,29.96 527.07,30.08 527.28,30.09 527.50,30.00 527.71,30.07 527.92,30.15 528.13,66.27 528.35,107.88 528.56,114.15 528.77,117.26 528.99,111.59 529.20,117.90 529.41,71.33 529.63,24.92 529.84,19.73 530.05,19.67 530.27,19.69 530.48,19.64 530.69,19.68 530.91,19.48 531.12,19.37 531.33,19.34 531.54,19.15 531.76,70.30 531.97,122.90 532.18,127.78 532.40,126.09 532.61,122.74 532.82,127.02 533.04,121.26 533.25,70.91 533.46,23.56 533.68,23.64 533.89,23.58 534.10,49.44 534.32,49.57 534.53,49.66 534.74,49.62 534.96,49.54 535.17,49.41 535.38,49.28 535.59,49.06 535.81,49.23 536.02,49.15 536.23,49.14 536.45,49.11 536.66,49.04 536.87,54.25 537.09,102.64 537.30,151.14 537.51,145.68 537.73,146.91 537.94,151.03 538.15,146.47 538.37,135.01 538.58,82.17 538.79,39.85 539.00,39.57 539.22,39.41 539.43,39.30 539.64,39.15 539.86,39.14 540.07,38.97 540.28,38.77 540.50,38.69 540.71,38.78 540.92,38.88 541.14,38.81 541.35,38.89 541.56,39.11 541.78,39.24 541.99,39.05 542.20,39.19 542.42,39.52 542.63,39.31 542.84,39.38 543.05,39.27 543.27,39.24 543.48,39.28 543.69,39.40 543.91,39.32 544.12,39.15 544.33,86.73 544.55,141.91 544.76,154.46 544.97,155.43 545.19,151.16 545.40,154.82 545.61,152.77 545.83,99.70 546.04,46.68 546.25,43.82 546.46,43.93 546.68,43.91 546.89,43.80 547.10,43.84 547.32,94.39 547.53,158.83 547.74,176.67 547.96,177.18 548.17,170.12 548.38,175.49 548.60,172.83 548.81,113.40 549.02,45.53 549.24,36.70 549.45,36.69 549.66,36.68 549.87,36.62 550.09,23.48 550.30,23.40 550.51,23.45 550.73,23.47 550.94,23.57 551.15,23.64 551.37,23.72 551.58,23.62 551.79,52.72 552.01,96.02 552.22,114.88 552.43,114.85 552.65,111.46 552.86,110.06 553.07,80.62 553.29,37.79 553.50,24.59 553.71,24.57 553.92,24.56 554.14,24.18 554.35,24.15 554.56,46.46 554.78,88.10 554.99,108.76 555.20,109.41 555.42,110.00 555.63,108.33 555.84,83.38 556.06,40.62 556.27,21.57 556.48,21.52 556.70,21.68 556.91,21.69 557.12,21.61 557.33,21.48 557.55,21.36 557.76,21.39 557.97,31.52 558.19,120.67 558.40,200.15 558.61,197.03 558.83,199.91 559.04,209.44 559.25,204.64 559.47,182.59 559.68,95.34 559.89,25.27 560.11,25.25 560.32,25.51 560.53,25.61 560.75,25.74 560.96,25.52 561.17,25.32 561.38,25.10 561.60,25.12 561.81,24.98 562.02,25.18 562.24,25.14 562.45,25.26 562.66,25.35 562.88,25.33 563.09,25.34 563.30,25.37 563.52,25.17 563.73,25.15 563.94,24.90 564.16,25.04 564.37,33.17 564.58,126.03 564.79,218.77 565.01,218.26 565.22,218.98 565.43,210.65 565.65,213.99 565.86,193.78 566.07,97.37 566.29,17.41 566.50,17.35 566.71,17.25 566.93,17.45 567.14,17.47 567.35,17.29 567.57,17.13 567.78,17.09 567.99,16.84 568.20,16.61 568.42,16.75 568.63,16.72 568.84,16.54 569.06,16.24 569.27,16.24 569.48,16.37 569.70,16.41 569.91,16.38 570.12,16.32 570.34,16.47 570.55,16.56 570.76,16.57 570.98,16.47 571.19,16.76 571.40,16.86 571.62,16.71 571.83,16.52 572.04,16.33 572.25,16.59 572.47,16.57 572.68,16.53 572.89,16.59 573.11,16.63 573.32,16.55 573.53,16.45 573.75,16.45 573.96,16.63 574.17,24.03 574.39,94.29 574.60,164.68 574.81,161.47 575.03,164.86 575.24,160.21 575.45,155.61 575.66,144.39 575.88,76.48 576.09,21.62 576.30,21.91 576.52,21.92 576.73,21.94 576.94,21.98 577.16,21.84 577.37,21.91 577.58,21.88 577.80,21.96 578.01,21.97 578.22,27.28 578.44,43.03 578.65,53.58 578.86,53.21 579.07,53.67 579.29,53.56 579.50,47.17 579.71,30.67 579.93,20.10 580.14,19.84 580.35,19.83 580.57,19.71 580.78,19.73 580.99,19.82 581.21,20.05 581.42,19.89 581.63,19.66 581.85,19.73 582.06,15.31 582.27,15.32 582.49,15.18 582.70,15.16 582.91,15.30 583.12,15.11 583.34,15.21 583.55,15.06 583.76,15.27 583.98,15.09 584.19,14.93 584.40,14.71 584.62,14.66 584.83,14.86 585.04,14.60 585.26,14.49 585.47,14.36 585.68,14.57 585.90,14.41 586.11,14.15 586.32,14.34 586.53,14.37 586.75,14.36 586.96,14.25 587.17,14.49 587.39,14.74 587.60,14.64 587.81,14.75 588.03,15.55 588.24,15.72 588.45,16.02 588.67,16.18 588.88,16.17 589.09,16.15 589.31,35.99 589.52,76.03 589.73,99.00 589.95,98.44 590.16,98.77 590.37,97.27 590.58,95.05 590.80,94.74 591.01,95.44 591.22,98.97 591.44,98.71 591.65,81.66 591.86,41.02 592.08,15.04 592.29,15.17 592.50,15.30 592.72,15.42 592.93,15.48 593.14,15.47 593.36,15.56 593.57,15.72 593.78,15.92 593.99,15.84 594.21,15.97 594.42,15.80 594.63,15.75 594.85,15.52 595.06,20.06 595.27,25.84 595.49,27.35 595.70,27.31 595.91,27.45 596.13,27.33 596.34,27.32 596.55,28.00 596.77,25.04 596.98,19.58 597.19,16.54 597.40,16.34 597.62,16.44 597.83,16.55 598.04,16.75 598.26,16.68 598.47,16.88 598.68,17.14 598.90,17.29 599.11,17.34 599.32,17.29 599.54,17.35 599.75,17.36 599.96,17.42 600.18,17.42 600.39,17.38 600.60,17.42 600.82,17.41 601.03,17.44 601.24,17.19 601.45,17.04 601.67,17.20 601.88,17.11 602.09,16.79 602.31,16.69 602.52,16.70 602.73,16.57 602.95,16.71 603.16,16.72 603.37,16.67 603.59,16.57 603.80,16.64 604.01,16.70 604.23,16.72 604.44,16.83 604.65,16.96 604.86,16.80 605.08,16.83 605.29,17.02 605.50,17.05 605.72,17.02 605.93,17.17 606.14,16.94 606.36,16.66 606.57,16.65 606.78,16.74 607.00,16.54 607.21,16.43 607.42,16.28 607.64,16.29 607.85,16.37 608.06,16.40 608.27,16.57 608.49,16.68 608.70,16.52 608.91,16.83 609.13,21.17 609.34,25.80 609.55,25.79 609.77,25.57 609.98,25.78 610.19,25.48 610.41,25.66 610.62,25.96 610.83,22.29 611.05,17.87 611.26,16.53 611.47,16.46 611.69,16.30 611.90,16.47 612.11,16.36 612.32,16.45 612.54,16.26 612.75,16.22 612.96,16.11 613.18,16.05 613.39,16.04 613.60,16.06 613.82,16.05 614.03,16.07 614.24,16.12 614.46,16.07 614.67,15.80 614.88,15.80 615.10,15.59 615.31,15.48 615.52,15.55 615.73,15.48 615.95,15.42 616.16,15.24 616.37,15.28 616.59,15.38 616.80,15.31 617.01,15.22 617.23,30.68 617.44,56.89 617.65,70.30 617.87,69.25 618.08,66.93 618.29,69.41 618.51,68.91 618.72,68.05 618.93,66.88 619.15,66.43 619.36,56.75 619.57,29.84 619.78,13.42 620.00,13.48 620.21,13.51 620.42,13.48 620.64,13.30 620.85,13.11 621.06,12.80 621.28,12.86 621.49,12.71 621.70,12.68 621.92,13.37 622.13,22.49 622.34,31.66 622.56,30.91 622.77,30.95 622.98,31.42 623.19,31.19 623.41,31.23 623.62,31.90 623.83,24.22 624.05,15.27 624.26,13.22 624.47,13.25 624.69,13.13 624.90,13.12 625.11,12.92 625.33,12.90 625.54,12.53 625.75,12.61 625.97,13.01 626.18,24.55 626.39,55.77 626.60,76.20 626.82,76.53 627.03,78.59 627.24,76.67 627.46,77.40 627.67,78.02 627.88,75.79 628.10,74.86 628.31,74.95 628.52,67.71 628.74,34.97 628.95,9.72 629.16,9.27 629.38,9.30 629.59,9.39 629.80,9.43 630.02,9.32 630.23,9.12 630.44,8.91 630.65,9.13 630.87,9.04 631.08,20.05 631.29,32.64 631.51,34.91 631.72,35.00 631.93,34.28 632.15,35.26 632.36,34.52 632.57,35.61 632.79,28.66 633.00,17.03 633.21,11.34 633.43,11.38 633.64,11.48 633.85,11.36 634.06,11.81 634.28,11.48 634.49,11.71 634.70,11.92 634.92,12.05 635.13,12.20 635.34,12.04 635.56,12.21 635.77,12.09 635.98,48.72 636.20,91.11 636.41,101.39 636.62,101.56 636.84,96.27 637.05,99.58 637.26,96.51 637.47,99.56 637.69,96.86 637.90,100.42 638.11,97.81 638.33,66.37 638.54,23.75 638.75,11.88 638.97,12.19 639.18,12.05 639.39,12.17 639.61,12.17 639.82,12.35 640.03,12.53 640.25,12.59 640.46,12.49 640.67,12.51 640.89,12.39 641.10,12.46 641.31,12.54 641.52,12.39 641.74,12.53 641.95,12.42 642.16,12.29 642.38,12.16 642.59,12.13 642.80,12.22 643.02,12.29 643.23,12.31 643.44,12.33 643.66,12.42 643.87,12.50 644.08,12.73 644.30,12.85 644.51,12.72 644.72,12.66 644.93,12.79 645.15,12.93 645.36,13.03 645.57,13.30 645.79,13.42 646.00,13.50 646.21,13.30 646.43,13.26 646.64,13.30 646.85,13.28 647.07,13.20 647.28,13.14 647.49,13.22 647.71,13.40 647.92,13.58 648.13,13.57 648.35,13.61 648.56,13.40 648.77,13.41 648.98,13.19 649.20,13.19 649.41,13.00 649.62,13.22 649.84,13.39 650.05,13.42 650.26,13.55 650.48,13.50 650.69,13.58 650.90,13.63 651.12,13.61 651.33,13.84 651.54,13.74 651.76,13.89 651.97,13.93 652.18,13.88 652.39,13.80 652.61,14.02 652.82,14.03 653.03,13.84 653.25,47.49 653.46,96.40 653.67,116.34 653.89,110.26 654.10,109.78 654.31,116.63 654.53,115.58 654.74,111.29 654.95,116.99 655.17,116.70 655.38,114.92 655.59,84.78 655.80,36.48 656.02,14.83 656.23,14.90 656.44,15.23 656.66,15.31 656.87,15.38 657.08,15.37 657.30,15.62 657.51,15.52 657.72,15.46 657.94,24.79 658.15,39.23 658.36,44.51 658.58,44.54 658.79,43.92 659.00,45.41 659.22,44.12 659.43,43.83 659.64,44.66 659.85,38.76 660.07,23.92 660.28,14.71 660.49,14.45 660.71,14.77 660.92,14.81 661.13,14.84 661.35,14.73 661.56,14.91 661.77,14.92 661.99,14.77 662.20,14.67 662.41,43.05 662.63,71.70 662.84,74.24 663.05,72.78 663.26,72.09 663.48,74.24 663.69,70.84 663.90,71.42 664.12,72.07 664.33,72.18 664.54,47.76 664.76,17.61 664.97,11.70 665.18,11.69 665.40,11.83 665.61,12.08 665.82,12.04 666.04,12.01 666.25,12.20 666.46,12.24 666.68,12.11 666.89,12.31 667.10,12.29 667.31,14.51 667.53,48.71 667.74,83.01 667.95,80.06 668.17,80.48 668.38,82.94 668.59,84.44 668.81,79.52 669.02,81.75 669.23,83.14 669.45,81.67 669.66,50.96 669.87,16.86 670.09,12.56 670.30,12.64 670.51,12.71 670.72,12.85 670.94,14.94 671.15,28.97 671.36,40.43 671.58,41.33 671.79,41.58 672.00,41.92 672.22,40.14 672.43,41.68 672.64,41.81 672.86,29.31 673.07,16.38 673.28,14.36 673.50,14.10 673.71,14.23 673.92,14.23 674.13,14.42 674.35,14.31 674.56,14.14 674.77,14.18 674.99,14.16 675.20,25.71 675.41,37.92 675.63,38.90 675.84,38.36 676.05,39.39 676.27,38.56 676.48,38.34 676.69,39.62 676.91,38.99 677.12,29.08 677.33,15.22 677.55,10.93 677.76,10.88 677.97,10.95 678.18,10.87 678.40,10.97 678.61,11.07 678.82,10.96 679.04,10.99 679.25,11.13 679.46,11.30 679.68,11.30 679.89,11.53 680.10,13.26 680.32,13.01 680.53,13.20 680.74,13.22 680.96,13.25 681.17,13.29 681.38,13.31 681.59,13.17 681.81,13.02 682.02,13.11 682.23,12.91 682.45,12.83 682.66,12.67 682.87,12.93 683.09,12.86 683.30,12.98 683.51,13.01 683.73,13.01 683.94,17.64 684.15,24.72 684.37,27.80 684.58,27.40 684.79,27.74 685.00,27.98 685.22,27.44 685.43,27.02 685.64,24.92 685.86,18.00 686.07,13.19 686.28,13.05 686.50,12.99 686.71,12.82 686.92,12.99 687.14,13.09 687.35,13.23 687.56,13.28 687.78,13.33 687.99,13.65 688.20,13.80 688.42,13.58 688.63,13.42 688.84,13.45 689.05,13.75 689.27,13.80 689.48,13.70 689.69,13.62 689.91,13.75 690.12,13.65 690.33,13.60 690.55,13.75 690.76,13.64 690.97,13.58 691.19,13.38 691.40,13.35 691.61,13.53 691.83,13.79 692.04,13.54 692.25,13.43 692.46,13.52 692.68,13.68 692.89,13.87 693.10,13.83 693.32,13.79 693.53,13.65 693.74,13.50 693.96,13.56 694.17,13.49 694.38,13.63 694.60,13.61 694.81,13.44 695.02,13.19 695.24,13.19 695.45,13.06 695.66,13.21 695.88,13.14 696.09,13.08 696.30,12.98 696.51,13.02 696.73,13.25 696.94,13.26 697.15,13.27 697.37,13.32 697.58,13.38 697.79,13.38 698.01,13.47 698.22,13.62 698.43,13.71 698.65,13.61 698.86,13.34 699.07,13.27 699.29,13.27 699.50,13.40 699.71,13.46 699.92,13.47 700.14,13.66 700.35,13.74 700.56,13.78 700.78,13.71 700.99,13.39 701.20,13.52 701.42,14.63 701.63,30.38 701.84,46.18 702.06,44.71 702.27,46.06 702.48,45.54 702.70,45.76 702.91,44.85 703.12,46.59 703.33,45.85 703.55,45.67 703.76,30.96 703.97,15.03 704.19,13.35 704.40,13.29 704.61,13.16 704.83,13.18 705.04,13.00 705.25,12.90 705.47,12.64 705.68,12.67 705.89,12.66 706.11,12.73 706.32,12.70 706.53,12.62 706.75,12.59 706.96,12.52 707.17,12.45 707.38,12.33 707.60,12.28 707.81,12.43 708.02,12.50 708.24,12.47 708.45,12.63 708.66,12.85 708.88,12.90 709.09,12.87 709.30,12.82 709.52,12.65 709.73,12.67 709.94,12.74 710.16,12.66 710.37,12.58 710.58,12.61 710.79,12.53 711.01,12.49 711.22,12.36 711.43,12.45 711.65,12.47 711.86,12.52 712.07,12.52 712.29,12.59 712.50,12.47 712.71,12.72 712.93,12.65 713.14,12.70 713.35,12.69 713.57,12.89 713.78,13.03 713.99,13.06 714.21,13.16 714.42,13.28 714.63,13.26 714.84,13.28 715.06,13.36 715.27,13.24 715.48,13.44 715.70,13.42 715.91,13.41 716.12,13.34 716.34,13.29 716.55,13.49 716.76,13.34 716.98,13.38 717.19,13.23 717.40,13.08 717.62,13.06 717.83,12.85 718.04,12.94 718.25,12.94 718.47,12.67 718.68,12.30 718.89,12.31 719.11,12.26 719.32,12.25 719.53,12.11 719.75,17.46 719.96,42.32 720.17,61.57 720.39,61.47 720.60,61.40 720.81,64.01 721.03,63.50 721.24,64.42 721.45,63.90 721.66,61.82 721.88,61.23 722.09,36.45 722.30,11.95 722.52,11.96 722.73,12.02 722.94,12.06 723.16,12.13 723.37,11.98 723.58,12.15 723.80,12.05 724.01,11.94 724.22,12.03 724.44,12.21 724.65,12.38 724.86,12.01 725.08,12.09 725.29,12.10 725.50,12.30 725.71,12.29 725.93,12.13 726.14,12.15 726.35,12.11 726.57,12.19 726.78,12.18 726.99,12.10 727.21,12.05 727.42,12.22 727.63,12.22 727.85,12.42 728.06,12.71 728.27,12.71 728.49,12.67 728.70,12.70 728.91,12.91 729.12,13.12 729.34,12.92 729.55,13.14 729.76,13.14 729.98,13.02 730.19,13.17 730.40,13.23 730.62,13.06 730.83,13.11 731.04,12.97 731.26,13.12 731.47,13.08 731.68,12.84 731.90,12.67 732.11,12.61 732.32,12.52 732.53,12.51 732.75,12.41 732.96,12.50 733.17,12.56 733.39,12.48 733.60,12.34 733.81,12.27 734.03,12.22 734.24,12.01 734.45,11.84 734.67,11.83 734.88,11.90 735.09,11.97 735.31,11.92 735.52,11.85 735.73,11.85 735.95,11.68 736.16,11.74 736.37,11.58 736.58,11.53 736.80,11.67 737.01,11.62 737.22,11.54 737.44,11.57 737.65,11.33 737.86,11.46 738.08,11.47 738.29,11.33 738.50,11.28 738.72,14.86 738.93,18.36 739.14,18.30 739.36,18.18 739.57,18.39 739.78,18.18 739.99,18.66 740.21,18.42 740.42,18.57 740.63,15.65 740.85,12.53 741.06,11.53 741.27,11.61 741.49,11.63 741.70,11.57 741.91,11.52 742.13,11.51 742.34,11.56 742.55,11.49 742.77,11.67 742.98,11.90 743.19,12.09 743.41,12.16 743.62,12.33 743.83,12.57 744.04,12.22 744.26,12.20 744.47,12.10 744.68,12.39 744.90,12.48 745.11,12.46 745.32,12.63 745.54,12.64 745.75,12.61 745.96,12.57 746.18,12.38 746.39,11.90 746.60,11.75 746.82,11.62 747.03,11.28 747.24,11.46 747.45,11.50 747.67,11.52 747.88,11.34 748.09,11.15 748.31,11.09 748.52,10.83 748.73,10.86 748.95,11.03 749.16,10.94 749.37,10.92 749.59,10.96 749.80,11.04 750.01,10.94 750.23,11.06 750.44,10.99 750.65,11.14 750.86,11.10 751.08,11.11 751.29,11.13 751.50,11.26 751.72,11.37 751.93,11.15 752.14,11.02 752.36,10.97 752.57,11.06 752.78,11.31 753.00,11.35 753.21,11.56 753.42,11.55 753.64,11.45 753.85,11.30 754.06,11.31 754.28,11.17 754.49,11.39 754.70,11.37 754.91,11.31 755.13,11.32 755.34,11.41 755.55,11.61 755.77,11.60 755.98,11.65 756.19,11.83 756.41,11.69 756.62,11.88 756.83,11.90 757.05,11.80 757.26,11.80 757.47,11.86 757.69,11.85 757.90,12.01 758.11,12.11 758.32,12.39 758.54,12.49 758.75,12.55 758.96,12.46 759.18,12.29 759.39,12.33 759.60,12.18 759.82,11.81 760.03,11.62 760.24,11.83 760.46,11.67 760.67,11.67 760.88,11.60 761.10,11.55 761.31,11.35 761.52,11.24 761.73,11.04 761.95,11.00 762.16,10.95 762.37,11.05 762.59,10.79 762.80,11.01 763.01,11.30 763.23,11.46 763.44,11.39 763.65,11.38 763.87,11.41 764.08,11.32 764.29,11.13 764.51,11.38 764.72,11.60 764.93,11.58 765.15,11.41 765.36,11.40 765.57,11.44 765.78,11.45 766.00,11.43 766.21,11.49 766.42,11.59 766.64,11.48 766.85,11.72 767.06,11.63 767.28,11.53 767.49,11.69 767.70,11.78 767.92,11.69 768.13,11.62 768.34,11.27 768.56,11.22 768.77,11.20 768.98,11.17 769.19,11.21 769.41,10.95 769.62,10.93 769.83,10.98 770.05,21.23 770.26,36.12 770.47,40.88 770.69,40.42 770.90,41.55 771.11,40.99 771.33,41.18 771.54,41.07 771.75,41.89 771.97,34.26 772.18,19.30 772.39,10.66 772.61,10.72 772.82,10.68 773.03,10.44 773.24,10.41 773.46,10.64 773.67,10.59 773.88,10.63 774.10,10.50 774.31,10.63 774.52,10.66 774.74,10.80 774.95,10.77 775.16,10.90 775.38,10.51 775.59,10.31 775.80,10.25 776.02,10.23 776.23,10.36 776.44,10.27 776.65,10.00 776.87,9.90 777.08,9.72 777.29,10.04 777.51,9.94 777.72,10.25 777.93,10.30 778.15,10.25 778.36,10.09 778.57,10.53 778.79,10.55 779.00,10.44 779.21,10.58 779.43,10.54 779.64,10.70 779.85,10.93 780.06,10.89 780.28,11.04 780.49,10.93 780.70,11.15 780.92,10.85 781.13,10.77 781.34,10.84 781.56,10.72 781.77,10.78 781.98,11.00 782.20,11.33 782.41,11.21 782.62,11.43 782.84,11.22 783.05,11.08 783.26,11.36 783.48,11.26 783.69,11.15 783.90,11.02 784.11,10.84 784.33,10.80 784.54,10.81 784.75,10.79 784.97,10.49 785.18,10.56 785.39,10.44 785.61,10.28 785.82,10.09 786.03,10.01 786.25,9.88 786.46,9.56 786.67,9.49 786.89,9.57 787.10,9.62 787.31,9.77 787.52,9.85 787.74,9.85 787.95,9.76 788.16,9.78 788.38,9.62 788.59,9.64 788.80,9.85 789.02,9.76 789.23,9.72 789.44,10.12 789.66,10.28 789.87,10.47 790.08,10.42 790.30,10.19 790.51,10.35 790.72,15.54 790.93,24.76 791.15,28.51 791.36,28.45 791.57,29.63 791.79,28.64 792.00,29.55 792.21,29.13 792.43,29.27 792.64,25.85 792.85,16.73 793.07,10.35 793.28,10.45 793.49,10.58 793.71,10.35 793.92,10.35 794.13,10.12 794.35,10.10 794.56,10.23 794.77,10.21 794.98,10.19 795.20,10.38 795.41,10.22 795.62,10.14 795.84,10.25 796.05,10.25 796.26,10.24 796.48,10.25 796.69,10.24 796.90,10.28 797.12,10.08 797.33,10.12 797.54,10.07 797.76,9.92 797.97,9.91 798.18,9.86 798.39,9.88 798.61,9.98 798.82,10.13 799.03,10.25 799.25,10.37 799.46,10.42 799.67,10.30 799.89,10.25 800.10,10.26 800.31,10.39 800.53,10.40 800.74,10.55 800.95,10.85 801.17,10.92 801.38,10.96 801.59,10.72 801.81,10.53 802.02,10.29 802.23,10.19 802.44,10.23 802.66,10.41 802.87,10.41 803.08,10.60 803.30,10.70 803.51,10.70 803.72,10.76 803.94,10.62 804.15,10.55 804.36,10.36 804.58,9.99 804.79,10.06 805.00,10.35 805.22,10.45 805.43,10.35 805.64,10.24 805.85,9.89 806.07,9.92 806.28,9.68 806.49,9.43 806.71,9.48 806.92,9.24 807.13,9.02 807.35,8.92 807.56,9.03 807.77,9.01 807.99,9.10 808.20,8.85 808.41,8.67 808.63,8.69 808.84,8.83 809.05,8.88 809.26,8.88 809.48,8.92 809.69,9.07 809.90,8.80 810.12,8.91 810.33,10.44 810.54,12.77 810.76,13.67 810.97,13.97 811.18,13.77 811.40,13.73 811.61,13.68 811.82,13.69 812.04,13.02 812.25,10.61 812.46,8.77 812.68,8.74 812.89,8.68 813.10,8.75 813.31,8.70 813.53,8.82 813.74,8.70 813.95,8.78 814.17,8.70 814.38,8.65 814.59,8.56 814.81,8.41 815.02,8.45 815.23,9.64 815.45,17.28 815.66,24.23 815.87,24.58 816.09,23.68 816.30,24.32 816.51,23.68 816.72,23.46 816.94,23.94 817.15,24.56 817.36,16.67 817.58,8.67 817.79,7.89 818.00,8.15 818.22,8.19 818.43,8.30 818.64,8.23 818.86,8.01 819.07,8.04 819.28,8.19 819.50,8.26 819.71,8.04 819.92,8.01 820.14,8.09 820.35,8.21 820.56,8.19 820.77,8.19 820.99,8.07 821.20,7.81 821.41,7.75 821.63,7.44 821.84,7.59 822.05,7.62 822.27,7.64 822.48,7.81 822.69,7.84 822.91,8.12 823.12,8.12 823.33,8.26 823.55,8.18 823.76,8.19 823.97,8.23 824.18,8.27 824.40,8.20 824.61,8.15 824.82,8.23 825.04,8.15 825.25,8.04 825.46,7.86 825.68,7.58 825.89,7.51 826.10,7.53 826.32,7.42 826.53,7.33 826.74,7.00 826.96,6.91 827.17,6.93 827.38,6.89 827.59,6.74 827.81,6.84 828.02,6.78 828.23,6.82 828.45,6.83 828.66,6.86 828.87,6.90 829.09,6.90 829.30,6.58" fill="none" stroke="#D95319" stroke-width="3.3" stroke-dasharray="13.4 5.4 3.6 4.7" stroke-linejoin="round"/></g><path d="M62.00 254.0v-8M62.00 5.0v8M168.57 254.0v-8M168.57 5.0v8M275.14 254.0v-8M275.14 5.0v8M381.71 254.0v-8M381.71 5.0v8M488.28 254.0v-8M488.28 5.0v8M594.85 254.0v-8M594.85 5.0v8M701.42 254.0v-8M701.42 5.0v8M807.99 254.0v-8M807.99 5.0v8M62.0 254.00h8M829.3 254.00h-8M62.0 218.43h8M829.3 218.43h-8M62.0 182.86h8M829.3 182.86h-8M62.0 147.29h8M829.3 147.29h-8M62.0 111.71h8M829.3 111.71h-8M62.0 76.14h8M829.3 76.14h-8M62.0 40.57h8M829.3 40.57h-8M62.0 5.00h8M829.3 5.00h-8" stroke="#2e2e2e" stroke-width="1.25" fill="none"/><rect x="62.0" y="5.0" width="767.3" height="249.0" fill="none" stroke="#2e2e2e" stroke-width="1.5"/><path d="M62.00 317.5V566.5M168.57 317.5V566.5M275.14 317.5V566.5M381.71 317.5V566.5M488.28 317.5V566.5M594.85 317.5V566.5M701.42 317.5V566.5M807.99 317.5V566.5M62.0 566.50H829.3M62.0 535.37H829.3M62.0 504.25H829.3M62.0 473.12H829.3M62.0 442.00H829.3M62.0 410.88H829.3M62.0 379.75H829.3M62.0 348.63H829.3M62.0 317.50H829.3" stroke="#dcdcdc" stroke-width="1" fill="none"/><g clip-path="url(#c2)"><polyline points="62.00,535.40 62.21,535.40 62.43,535.40 62.64,535.40 62.85,535.40 63.07,522.96 63.28,522.96 63.49,522.96 63.71,522.96 63.92,522.96 64.13,538.51 64.34,538.51 64.56,538.51 64.77,538.51 64.98,538.51 65.20,529.18 65.41,529.18 65.62,529.18 65.84,529.18 66.05,529.18 66.26,535.40 66.48,535.40 66.69,535.40 66.90,535.40 67.12,535.40 67.33,532.29 67.54,532.29 67.75,532.29 67.97,532.29 68.18,532.29 68.39,538.51 68.61,538.51 68.82,538.51 69.03,538.51 69.25,538.51 69.46,550.95 69.67,550.95 69.89,550.95 70.10,550.95 70.31,550.95 70.53,526.07 70.74,526.07 70.95,526.07 71.16,526.07 71.38,526.07 71.59,538.51 71.80,538.51 72.02,538.51 72.23,538.51 72.44,538.51 72.66,538.51 72.87,538.51 73.08,538.51 73.30,538.51 73.51,538.51 73.72,535.40 73.94,535.40 74.15,535.40 74.36,535.40 74.58,535.40 74.79,532.29 75.00,532.29 75.21,532.29 75.43,532.29 75.64,532.29 75.85,538.51 76.07,538.51 76.28,538.51 76.49,538.51 76.71,538.51 76.92,538.51 77.13,538.51 77.35,538.51 77.56,538.51 77.77,538.51 77.99,529.18 78.20,529.18 78.41,529.18 78.62,529.18 78.84,529.18 79.05,526.07 79.26,526.07 79.48,526.07 79.69,526.07 79.90,526.07 80.12,532.29 80.33,532.29 80.54,532.29 80.76,532.29 80.97,532.29 81.18,535.40 81.40,535.40 81.61,535.40 81.82,535.40 82.04,535.40 82.25,529.18 82.46,529.18 82.67,529.18 82.89,529.18 83.10,529.18 83.31,532.29 83.53,532.29 83.74,532.29 83.95,532.29 84.17,532.29 84.38,532.29 84.59,532.29 84.81,532.29 85.02,532.29 85.23,532.29 85.45,529.18 85.66,529.18 85.87,529.18 86.08,529.18 86.30,529.18 86.51,532.29 86.72,532.29 86.94,532.29 87.15,532.29 87.36,532.29 87.58,526.07 87.79,526.07 88.00,526.07 88.22,526.07 88.43,526.07 88.64,532.29 88.86,532.29 89.07,532.29 89.28,532.29 89.49,532.29 89.71,532.29 89.92,532.29 90.13,532.29 90.35,532.29 90.56,532.29 90.77,529.18 90.99,529.18 91.20,529.18 91.41,529.18 91.63,529.18 91.84,541.62 92.05,541.62 92.27,541.62 92.48,541.62 92.69,541.62 92.91,532.29 93.12,532.29 93.33,532.29 93.54,532.29 93.76,532.29 93.97,544.73 94.18,544.73 94.40,544.73 94.61,541.62 94.82,541.62 95.04,522.96 95.25,522.96 95.46,519.85 95.68,519.85 95.89,516.74 96.10,529.18 96.32,526.07 96.53,526.07 96.74,522.96 96.95,522.96 97.17,507.41 97.38,507.41 97.59,507.41 97.81,507.41 98.02,507.41 98.23,504.30 98.45,504.30 98.66,504.30 98.87,504.30 99.09,504.30 99.30,513.63 99.51,513.63 99.73,513.63 99.94,513.63 100.15,513.63 100.37,501.19 100.58,501.19 100.79,501.19 101.00,501.19 101.22,501.19 101.43,510.52 101.64,510.52 101.86,510.52 102.07,510.52 102.28,510.52 102.50,516.74 102.71,516.74 102.92,516.74 103.14,516.74 103.35,513.63 103.56,513.63 103.78,510.52 103.99,510.52 104.20,510.52 104.41,510.52 104.63,504.30 104.84,504.30 105.05,504.30 105.27,504.30 105.48,504.30 105.69,507.41 105.91,507.41 106.12,507.41 106.33,504.30 106.55,504.30 106.76,504.30 106.97,504.30 107.19,504.30 107.40,504.30 107.61,504.30 107.82,498.08 108.04,498.08 108.25,498.08 108.46,494.97 108.68,494.97 108.89,498.08 109.10,498.08 109.32,494.97 109.53,494.97 109.74,494.97 109.96,498.08 110.17,498.08 110.38,498.08 110.60,498.08 110.81,498.08 111.02,494.97 111.24,494.97 111.45,494.97 111.66,494.97 111.87,494.97 112.09,491.86 112.30,491.86 112.51,491.86 112.73,491.86 112.94,491.86 113.15,494.97 113.37,494.97 113.58,494.97 113.79,491.86 114.01,491.86 114.22,494.97 114.43,494.97 114.65,494.97 114.86,494.97 115.07,491.86 115.28,501.19 115.50,501.19 115.71,498.08 115.92,498.08 116.14,498.08 116.35,494.97 116.56,494.97 116.78,491.86 116.99,491.86 117.20,491.86 117.42,485.64 117.63,485.64 117.84,485.64 118.06,485.64 118.27,485.64 118.48,485.64 118.69,485.64 118.91,485.64 119.12,485.64 119.33,485.64 119.55,473.20 119.76,473.20 119.97,473.20 120.19,473.20 120.40,473.20 120.61,485.64 120.83,485.64 121.04,485.64 121.25,482.53 121.47,482.53 121.68,479.42 121.89,479.42 122.11,479.42 122.32,479.42 122.53,479.42 122.74,476.31 122.96,476.31 123.17,473.20 123.38,473.20 123.60,473.20 123.81,463.87 124.02,463.87 124.24,463.87 124.45,463.87 124.66,463.87 124.88,473.20 125.09,473.20 125.30,473.20 125.52,473.20 125.73,473.20 125.94,466.98 126.15,466.98 126.37,466.98 126.58,466.98 126.79,466.98 127.01,466.98 127.22,466.98 127.43,466.98 127.65,466.98 127.86,466.98 128.07,470.09 128.29,470.09 128.50,470.09 128.71,470.09 128.93,470.09 129.14,470.09 129.35,470.09 129.57,470.09 129.78,470.09 129.99,470.09 130.20,466.98 130.42,466.98 130.63,466.98 130.84,466.98 131.06,466.98 131.27,460.76 131.48,457.65 131.70,457.65 131.91,457.65 132.12,457.65 132.34,473.20 132.55,473.20 132.76,473.20 132.98,473.20 133.19,473.20 133.40,473.20 133.61,473.20 133.83,473.20 134.04,473.20 134.25,473.20 134.47,479.42 134.68,479.42 134.89,479.42 135.11,479.42 135.32,479.42 135.53,470.09 135.75,470.09 135.96,470.09 136.17,470.09 136.39,470.09 136.60,466.98 136.81,466.98 137.02,463.87 137.24,463.87 137.45,463.87 137.66,463.87 137.88,463.87 138.09,463.87 138.30,463.87 138.52,463.87 138.73,463.87 138.94,463.87 139.16,463.87 139.37,463.87 139.58,463.87 139.80,473.20 140.01,470.09 140.22,470.09 140.44,470.09 140.65,470.09 140.86,457.65 141.07,457.65 141.29,457.65 141.50,457.65 141.71,457.65 141.93,460.76 142.14,460.76 142.35,457.65 142.57,457.65 142.78,457.65 142.99,460.76 143.21,460.76 143.42,460.76 143.63,460.76 143.85,460.76 144.06,451.43 144.27,451.43 144.48,451.43 144.70,451.43 144.91,451.43 145.12,445.21 145.34,445.21 145.55,445.21 145.76,445.21 145.98,445.21 146.19,454.54 146.40,454.54 146.62,454.54 146.83,454.54 147.04,454.54 147.26,454.54 147.47,454.54 147.68,454.54 147.89,454.54 148.11,454.54 148.32,454.54 148.53,454.54 148.75,454.54 148.96,454.54 149.17,454.54 149.39,457.65 149.60,457.65 149.81,457.65 150.03,457.65 150.24,457.65 150.45,460.76 150.67,460.76 150.88,460.76 151.09,460.76 151.31,460.76 151.52,460.76 151.73,460.76 151.94,460.76 152.16,460.76 152.37,460.76 152.58,454.54 152.80,454.54 153.01,457.65 153.22,457.65 153.44,457.65 153.65,457.65 153.86,457.65 154.08,457.65 154.29,457.65 154.50,457.65 154.72,454.54 154.93,454.54 155.14,454.54 155.35,454.54 155.57,454.54 155.78,457.65 155.99,457.65 156.21,457.65 156.42,457.65 156.63,457.65 156.85,463.87 157.06,463.87 157.27,463.87 157.49,463.87 157.70,463.87 157.91,460.76 158.13,460.76 158.34,463.87 158.55,463.87 158.77,463.87 158.98,460.76 159.19,460.76 159.40,460.76 159.62,460.76 159.83,460.76 160.04,454.54 160.26,454.54 160.47,454.54 160.68,454.54 160.90,454.54 161.11,457.65 161.32,457.65 161.54,457.65 161.75,457.65 161.96,457.65 162.18,457.65 162.39,454.54 162.60,454.54 162.81,454.54 163.03,454.54 163.24,457.65 163.45,457.65 163.67,457.65 163.88,457.65 164.09,457.65 164.31,451.43 164.52,451.43 164.73,451.43 164.95,451.43 165.16,451.43 165.37,470.09 165.59,470.09 165.80,470.09 166.01,470.09 166.22,470.09 166.44,454.54 166.65,454.54 166.86,454.54 167.08,454.54 167.29,454.54 167.50,448.32 167.72,448.32 167.93,448.32 168.14,448.32 168.36,448.32 168.57,448.32 168.78,448.32 169.00,448.32 169.21,448.32 169.42,448.32 169.64,448.32 169.85,448.32 170.06,448.32 170.27,448.32 170.49,448.32 170.70,445.21 170.91,445.21 171.13,445.21 171.34,445.21 171.55,445.21 171.77,442.10 171.98,442.10 172.19,442.10 172.41,442.10 172.62,442.10 172.83,442.10 173.05,442.10 173.26,442.10 173.47,442.10 173.68,442.10 173.90,451.43 174.11,451.43 174.32,451.43 174.54,451.43 174.75,451.43 174.96,435.88 175.18,435.88 175.39,435.88 175.60,435.88 175.82,435.88 176.03,448.32 176.24,448.32 176.46,448.32 176.67,448.32 176.88,448.32 177.09,435.88 177.31,435.88 177.52,435.88 177.73,435.88 177.95,435.88 178.16,442.10 178.37,442.10 178.59,442.10 178.80,442.10 179.01,442.10 179.23,448.32 179.44,448.32 179.65,448.32 179.87,448.32 180.08,448.32 180.29,463.87 180.51,463.87 180.72,463.87 180.93,463.87 181.14,463.87 181.36,457.65 181.57,457.65 181.78,457.65 182.00,457.65 182.21,457.65 182.42,451.43 182.64,451.43 182.85,451.43 183.06,451.43 183.28,451.43 183.49,448.32 183.70,448.32 183.92,448.32 184.13,448.32 184.34,448.32 184.55,448.32 184.77,448.32 184.98,448.32 185.19,448.32 185.41,448.32 185.62,448.32 185.83,448.32 186.05,448.32 186.26,448.32 186.47,448.32 186.69,445.21 186.90,445.21 187.11,445.21 187.33,445.21 187.54,445.21 187.75,445.21 187.97,445.21 188.18,445.21 188.39,445.21 188.60,445.21 188.82,451.43 189.03,454.54 189.24,454.54 189.46,454.54 189.67,454.54 189.88,454.54 190.10,454.54 190.31,454.54 190.52,454.54 190.74,454.54 190.95,457.65 191.16,457.65 191.38,457.65 191.59,457.65 191.80,460.76 192.01,463.87 192.23,463.87 192.44,463.87 192.65,463.87 192.87,463.87 193.08,457.65 193.29,457.65 193.51,457.65 193.72,457.65 193.93,457.65 194.15,448.32 194.36,448.32 194.57,448.32 194.79,448.32 195.00,448.32 195.21,451.43 195.42,451.43 195.64,451.43 195.85,451.43 196.06,451.43 196.28,448.32 196.49,448.32 196.70,448.32 196.92,448.32 197.13,448.32 197.34,451.43 197.56,451.43 197.77,451.43 197.98,451.43 198.20,451.43 198.41,454.54 198.62,454.54 198.84,454.54 199.05,454.54 199.26,454.54 199.47,454.54 199.69,454.54 199.90,454.54 200.11,454.54 200.33,454.54 200.54,457.65 200.75,457.65 200.97,457.65 201.18,457.65 201.39,457.65 201.61,457.65 201.82,457.65 202.03,457.65 202.25,457.65 202.46,457.65 202.67,457.65 202.88,457.65 203.10,457.65 203.31,457.65 203.52,457.65 203.74,451.43 203.95,451.43 204.16,451.43 204.38,451.43 204.59,451.43 204.80,457.65 205.02,457.65 205.23,457.65 205.44,457.65 205.66,457.65 205.87,451.43 206.08,451.43 206.30,451.43 206.51,451.43 206.72,451.43 206.93,448.32 207.15,448.32 207.36,448.32 207.57,448.32 207.79,451.43 208.00,470.09 208.21,470.09 208.43,470.09 208.64,470.09 208.85,470.09 209.07,463.87 209.28,463.87 209.49,463.87 209.71,463.87 209.92,463.87 210.13,457.65 210.34,457.65 210.56,457.65 210.77,457.65 210.98,457.65 211.20,460.76 211.41,460.76 211.62,460.76 211.84,460.76 212.05,460.76 212.26,460.76 212.48,460.76 212.69,460.76 212.90,460.76 213.12,463.87 213.33,451.43 213.54,451.43 213.75,451.43 213.97,454.54 214.18,454.54 214.39,463.87 214.61,463.87 214.82,463.87 215.03,463.87 215.25,463.87 215.46,466.98 215.67,466.98 215.89,466.98 216.10,466.98 216.31,466.98 216.53,470.09 216.74,470.09 216.95,470.09 217.17,470.09 217.38,473.20 217.59,463.87 217.80,463.87 218.02,466.98 218.23,466.98 218.44,466.98 218.66,488.75 218.87,488.75 219.08,488.75 219.30,488.75 219.51,488.75 219.72,463.87 219.94,466.98 220.15,466.98 220.36,466.98 220.58,466.98 220.79,479.42 221.00,479.42 221.21,479.42 221.43,479.42 221.64,479.42 221.85,482.53 222.07,482.53 222.28,482.53 222.49,482.53 222.71,482.53 222.92,476.31 223.13,476.31 223.35,476.31 223.56,476.31 223.77,476.31 223.99,470.09 224.20,470.09 224.41,470.09 224.62,473.20 224.84,473.20 225.05,482.53 225.26,482.53 225.48,482.53 225.69,482.53 225.90,482.53 226.12,476.31 226.33,476.31 226.54,479.42 226.76,479.42 226.97,479.42 227.18,485.64 227.40,485.64 227.61,485.64 227.82,485.64 228.04,488.75 228.25,491.86 228.46,491.86 228.67,491.86 228.89,491.86 229.10,491.86 229.31,491.86 229.53,494.97 229.74,494.97 229.95,494.97 230.17,494.97 230.38,498.08 230.59,498.08 230.81,498.08 231.02,498.08 231.23,498.08 231.45,485.64 231.66,485.64 231.87,485.64 232.08,485.64 232.30,485.64 232.51,498.08 232.72,498.08 232.94,498.08 233.15,498.08 233.36,498.08 233.58,507.41 233.79,507.41 234.00,507.41 234.22,507.41 234.43,507.41 234.64,498.08 234.86,498.08 235.07,498.08 235.28,498.08 235.50,498.08 235.71,498.08 235.92,498.08 236.13,498.08 236.35,498.08 236.56,498.08 236.77,494.97 236.99,494.97 237.20,494.97 237.41,494.97 237.63,494.97 237.84,488.75 238.05,488.75 238.27,488.75 238.48,488.75 238.69,488.75 238.91,498.08 239.12,498.08 239.33,498.08 239.54,498.08 239.76,498.08 239.97,494.97 240.18,494.97 240.40,494.97 240.61,494.97 240.82,494.97 241.04,501.19 241.25,501.19 241.46,501.19 241.68,501.19 241.89,501.19 242.10,507.41 242.32,507.41 242.53,507.41 242.74,507.41 242.95,507.41 243.17,498.08 243.38,498.08 243.59,498.08 243.81,498.08 244.02,498.08 244.23,504.30 244.45,504.30 244.66,504.30 244.87,504.30 245.09,504.30 245.30,504.30 245.51,504.30 245.73,504.30 245.94,504.30 246.15,504.30 246.37,501.19 246.58,501.19 246.79,501.19 247.00,501.19 247.22,501.19 247.43,501.19 247.64,501.19 247.86,501.19 248.07,501.19 248.28,501.19 248.50,504.30 248.71,504.30 248.92,504.30 249.14,504.30 249.35,504.30 249.56,504.30 249.78,504.30 249.99,504.30 250.20,504.30 250.41,504.30 250.63,501.19 250.84,501.19 251.05,501.19 251.27,504.30 251.48,504.30 251.69,504.30 251.91,504.30 252.12,504.30 252.33,507.41 252.55,507.41 252.76,504.30 252.97,504.30 253.19,504.30 253.40,504.30 253.61,504.30 253.82,510.52 254.04,510.52 254.25,510.52 254.46,510.52 254.68,510.52 254.89,504.30 255.10,504.30 255.32,507.41 255.53,507.41 255.74,507.41 255.96,504.30 256.17,504.30 256.38,504.30 256.60,504.30 256.81,504.30 257.02,507.41 257.24,507.41 257.45,507.41 257.66,507.41 257.87,507.41 258.09,513.63 258.30,513.63 258.51,513.63 258.73,513.63 258.94,513.63 259.15,510.52 259.37,510.52 259.58,510.52 259.79,510.52 260.01,510.52 260.22,504.30 260.43,504.30 260.65,504.30 260.86,504.30 261.07,504.30 261.28,498.08 261.50,498.08 261.71,498.08 261.92,498.08 262.14,498.08 262.35,513.63 262.56,513.63 262.78,513.63 262.99,513.63 263.20,513.63 263.42,510.52 263.63,510.52 263.84,510.52 264.06,510.52 264.27,507.41 264.48,501.19 264.70,501.19 264.91,501.19 265.12,501.19 265.33,501.19 265.55,504.30 265.76,501.19 265.97,501.19 266.19,501.19 266.40,501.19 266.61,491.86 266.83,491.86 267.04,491.86 267.25,494.97 267.47,494.97 267.68,504.30 267.89,504.30 268.11,504.30 268.32,504.30 268.53,504.30 268.74,507.41 268.96,507.41 269.17,507.41 269.38,507.41 269.60,507.41 269.81,504.30 270.02,504.30 270.24,504.30 270.45,504.30 270.66,504.30 270.88,519.85 271.09,519.85 271.30,522.96 271.52,522.96 271.73,522.96 271.94,510.52 272.15,513.63 272.37,513.63 272.58,513.63 272.79,513.63 273.01,507.41 273.22,507.41 273.43,507.41 273.65,507.41 273.86,507.41 274.07,504.30 274.29,504.30 274.50,504.30 274.71,504.30 274.93,507.41 275.14,513.63 275.35,513.63 275.57,513.63 275.78,513.63 275.99,513.63 276.20,513.63 276.42,513.63 276.63,513.63 276.84,513.63 277.06,513.63 277.27,516.74 277.48,516.74 277.70,516.74 277.91,516.74 278.12,516.74 278.34,519.85 278.55,519.85 278.76,519.85 278.98,519.85 279.19,519.85 279.40,516.74 279.61,516.74 279.83,516.74 280.04,516.74 280.25,516.74 280.47,519.85 280.68,519.85 280.89,519.85 281.11,519.85 281.32,519.85 281.53,516.74 281.75,516.74 281.96,516.74 282.17,516.74 282.39,516.74 282.60,513.63 282.81,513.63 283.03,513.63 283.24,513.63 283.45,513.63 283.66,510.52 283.88,510.52 284.09,510.52 284.30,510.52 284.52,510.52 284.73,510.52 284.94,510.52 285.16,510.52 285.37,510.52 285.58,510.52 285.80,507.41 286.01,507.41 286.22,507.41 286.44,507.41 286.65,507.41 286.86,501.19 287.07,501.19 287.29,501.19 287.50,501.19 287.71,501.19 287.93,513.63 288.14,513.63 288.35,513.63 288.57,513.63 288.78,513.63 288.99,510.52 289.21,510.52 289.42,510.52 289.63,510.52 289.85,510.52 290.06,507.41 290.27,507.41 290.48,507.41 290.70,507.41 290.91,507.41 291.12,516.74 291.34,516.74 291.55,516.74 291.76,516.74 291.98,513.63 292.19,494.97 292.40,494.97 292.62,494.97 292.83,494.97 293.04,494.97 293.26,510.52 293.47,510.52 293.68,510.52 293.90,510.52 294.11,510.52 294.32,507.41 294.53,507.41 294.75,507.41 294.96,504.30 295.17,504.30 295.39,507.41 295.60,507.41 295.81,507.41 296.03,507.41 296.24,507.41 296.45,498.08 296.67,498.08 296.88,498.08 297.09,498.08 297.31,498.08 297.52,510.52 297.73,510.52 297.94,510.52 298.16,507.41 298.37,507.41 298.58,507.41 298.80,504.30 299.01,504.30 299.22,504.30 299.44,504.30 299.65,513.63 299.86,513.63 300.08,513.63 300.29,513.63 300.50,513.63 300.72,501.19 300.93,501.19 301.14,501.19 301.35,501.19 301.57,501.19 301.78,498.08 301.99,498.08 302.21,498.08 302.42,498.08 302.63,498.08 302.85,488.75 303.06,488.75 303.27,488.75 303.49,488.75 303.70,488.75 303.91,491.86 304.13,491.86 304.34,491.86 304.55,491.86 304.77,491.86 304.98,498.08 305.19,498.08 305.40,498.08 305.62,498.08 305.83,498.08 306.04,513.63 306.26,513.63 306.47,513.63 306.68,513.63 306.90,513.63 307.11,510.52 307.32,510.52 307.54,510.52 307.75,510.52 307.96,510.52 308.18,488.75 308.39,488.75 308.60,488.75 308.81,488.75 309.03,488.75 309.24,491.86 309.45,491.86 309.67,491.86 309.88,491.86 310.09,491.86 310.31,494.97 310.52,494.97 310.73,494.97 310.95,494.97 311.16,494.97 311.37,498.08 311.59,498.08 311.80,498.08 312.01,498.08 312.23,498.08 312.44,504.30 312.65,504.30 312.86,504.30 313.08,504.30 313.29,504.30 313.50,498.08 313.72,498.08 313.93,498.08 314.14,498.08 314.36,498.08 314.57,501.19 314.78,501.19 315.00,501.19 315.21,501.19 315.42,501.19 315.64,498.08 315.85,498.08 316.06,498.08 316.27,498.08 316.49,498.08 316.70,501.19 316.91,501.19 317.13,501.19 317.34,501.19 317.55,501.19 317.77,504.30 317.98,504.30 318.19,504.30 318.41,504.30 318.62,504.30 318.83,498.08 319.05,498.08 319.26,498.08 319.47,498.08 319.68,498.08 319.90,501.19 320.11,501.19 320.32,501.19 320.54,501.19 320.75,501.19 320.96,504.30 321.18,504.30 321.39,504.30 321.60,504.30 321.82,504.30 322.03,501.19 322.24,501.19 322.46,501.19 322.67,501.19 322.88,501.19 323.10,504.30 323.31,504.30 323.52,504.30 323.73,504.30 323.95,504.30 324.16,504.30 324.37,504.30 324.59,504.30 324.80,504.30 325.01,504.30 325.23,504.30 325.44,504.30 325.65,504.30 325.87,504.30 326.08,504.30 326.29,498.08 326.51,498.08 326.72,498.08 326.93,498.08 327.14,498.08 327.36,501.19 327.57,501.19 327.78,501.19 328.00,501.19 328.21,501.19 328.42,501.19 328.64,501.19 328.85,501.19 329.06,501.19 329.28,501.19 329.49,494.97 329.70,491.86 329.92,491.86 330.13,491.86 330.34,491.86 330.56,488.75 330.77,488.75 330.98,488.75 331.19,488.75 331.41,488.75 331.62,482.53 331.83,482.53 332.05,482.53 332.26,482.53 332.47,479.42 332.69,488.75 332.90,485.64 333.11,485.64 333.33,485.64 333.54,485.64 333.75,494.97 333.97,494.97 334.18,494.97 334.39,494.97 334.60,494.97 334.82,479.42 335.03,479.42 335.24,479.42 335.46,479.42 335.67,479.42 335.88,485.64 336.10,485.64 336.31,485.64 336.52,485.64 336.74,485.64 336.95,488.75 337.16,488.75 337.38,488.75 337.59,488.75 337.80,488.75 338.01,482.53 338.23,482.53 338.44,482.53 338.65,482.53 338.87,482.53 339.08,476.31 339.29,476.31 339.51,476.31 339.72,476.31 339.93,476.31 340.15,485.64 340.36,485.64 340.57,485.64 340.79,485.64 341.00,485.64 341.21,488.75 341.43,488.75 341.64,488.75 341.85,488.75 342.06,488.75 342.28,485.64 342.49,485.64 342.70,485.64 342.92,485.64 343.13,485.64 343.34,488.75 343.56,488.75 343.77,488.75 343.98,488.75 344.20,488.75 344.41,488.75 344.62,488.75 344.84,488.75 345.05,488.75 345.26,488.75 345.47,482.53 345.69,482.53 345.90,482.53 346.11,482.53 346.33,482.53 346.54,485.64 346.75,485.64 346.97,485.64 347.18,485.64 347.39,485.64 347.61,488.75 347.82,488.75 348.03,488.75 348.25,488.75 348.46,488.75 348.67,491.86 348.88,491.86 349.10,491.86 349.31,491.86 349.52,491.86 349.74,485.64 349.95,485.64 350.16,485.64 350.38,485.64 350.59,485.64 350.80,482.53 351.02,482.53 351.23,482.53 351.44,482.53 351.66,482.53 351.87,485.64 352.08,485.64 352.30,485.64 352.51,485.64 352.72,485.64 352.93,488.75 353.15,488.75 353.36,488.75 353.57,488.75 353.79,485.64 354.00,488.75 354.21,488.75 354.43,488.75 354.64,488.75 354.85,488.75 355.07,485.64 355.28,485.64 355.49,485.64 355.71,485.64 355.92,485.64 356.13,479.42 356.34,479.42 356.56,479.42 356.77,479.42 356.98,479.42 357.20,485.64 357.41,485.64 357.62,485.64 357.84,485.64 358.05,485.64 358.26,476.31 358.48,476.31 358.69,476.31 358.90,476.31 359.12,476.31 359.33,470.09 359.54,470.09 359.76,473.20 359.97,473.20 360.18,473.20 360.39,473.20 360.61,473.20 360.82,473.20 361.03,473.20 361.25,473.20 361.46,488.75 361.67,488.75 361.89,488.75 362.10,488.75 362.31,488.75 362.53,482.53 362.74,482.53 362.95,482.53 363.17,482.53 363.38,482.53 363.59,488.75 363.80,488.75 364.02,488.75 364.23,491.86 364.44,491.86 364.66,488.75 364.87,488.75 365.08,488.75 365.30,488.75 365.51,491.86 365.72,485.64 365.94,485.64 366.15,485.64 366.36,485.64 366.58,485.64 366.79,488.75 367.00,485.64 367.21,485.64 367.43,485.64 367.64,485.64 367.85,485.64 368.07,485.64 368.28,485.64 368.49,485.64 368.71,485.64 368.92,498.08 369.13,498.08 369.35,498.08 369.56,498.08 369.77,498.08 369.99,491.86 370.20,491.86 370.41,491.86 370.63,491.86 370.84,491.86 371.05,488.75 371.26,488.75 371.48,488.75 371.69,488.75 371.90,488.75 372.12,488.75 372.33,488.75 372.54,488.75 372.76,488.75 372.97,485.64 373.18,482.53 373.40,482.53 373.61,482.53 373.82,482.53 374.04,482.53 374.25,476.31 374.46,476.31 374.67,476.31 374.89,476.31 375.10,476.31 375.31,482.53 375.53,482.53 375.74,482.53 375.95,482.53 376.17,482.53 376.38,491.86 376.59,491.86 376.81,491.86 377.02,491.86 377.23,491.86 377.45,485.64 377.66,485.64 377.87,485.64 378.08,485.64 378.30,485.64 378.51,488.75 378.72,488.75 378.94,488.75 379.15,488.75 379.36,491.86 379.58,479.42 379.79,479.42 380.00,479.42 380.22,479.42 380.43,479.42 380.64,491.86 380.86,491.86 381.07,491.86 381.28,491.86 381.50,491.86 381.71,488.75 381.92,488.75 382.13,488.75 382.35,488.75 382.56,488.75 382.77,488.75 382.99,488.75 383.20,488.75 383.41,488.75 383.63,488.75 383.84,491.86 384.05,491.86 384.27,491.86 384.48,491.86 384.69,491.86 384.91,498.08 385.12,498.08 385.33,498.08 385.54,501.19 385.76,501.19 385.97,488.75 386.18,488.75 386.40,488.75 386.61,488.75 386.82,488.75 387.04,482.53 387.25,482.53 387.46,482.53 387.68,482.53 387.89,482.53 388.10,494.97 388.32,494.97 388.53,494.97 388.74,494.97 388.96,498.08 389.17,498.08 389.38,498.08 389.59,498.08 389.81,498.08 390.02,498.08 390.23,507.41 390.45,507.41 390.66,507.41 390.87,507.41 391.09,507.41 391.30,501.19 391.51,501.19 391.73,501.19 391.94,501.19 392.15,501.19 392.37,498.08 392.58,498.08 392.79,501.19 393.00,501.19 393.22,501.19 393.43,485.64 393.64,485.64 393.86,485.64 394.07,485.64 394.28,485.64 394.50,501.19 394.71,501.19 394.92,501.19 395.14,498.08 395.35,498.08 395.56,494.97 395.78,494.97 395.99,494.97 396.20,491.86 396.41,491.86 396.63,491.86 396.84,491.86 397.05,491.86 397.27,491.86 397.48,491.86 397.69,488.75 397.91,488.75 398.12,488.75 398.33,488.75 398.55,485.64 398.76,485.64 398.97,485.64 399.19,485.64 399.40,482.53 399.61,482.53 399.83,485.64 400.04,485.64 400.25,482.53 400.46,482.53 400.68,482.53 400.89,476.31 401.10,476.31 401.32,473.20 401.53,473.20 401.74,473.20 401.96,494.97 402.17,494.97 402.38,494.97 402.60,494.97 402.81,494.97 403.02,479.42 403.24,479.42 403.45,479.42 403.66,479.42 403.87,479.42 404.09,491.86 404.30,491.86 404.51,491.86 404.73,491.86 404.94,491.86 405.15,479.42 405.37,479.42 405.58,479.42 405.79,479.42 406.01,479.42 406.22,491.86 406.43,491.86 406.65,491.86 406.86,491.86 407.07,491.86 407.29,485.64 407.50,485.64 407.71,485.64 407.92,485.64 408.14,485.64 408.35,479.42 408.56,479.42 408.78,479.42 408.99,479.42 409.20,479.42 409.42,479.42 409.63,479.42 409.84,479.42 410.06,476.31 410.27,476.31 410.48,479.42 410.70,479.42 410.91,479.42 411.12,479.42 411.33,479.42 411.55,479.42 411.76,479.42 411.97,479.42 412.19,479.42 412.40,479.42 412.61,479.42 412.83,479.42 413.04,479.42 413.25,476.31 413.47,476.31 413.68,476.31 413.89,476.31 414.11,476.31 414.32,476.31 414.53,476.31 414.74,479.42 414.96,479.42 415.17,479.42 415.38,479.42 415.60,479.42 415.81,485.64 416.02,485.64 416.24,485.64 416.45,485.64 416.66,485.64 416.88,476.31 417.09,473.20 417.30,473.20 417.52,473.20 417.73,473.20 417.94,479.42 418.16,479.42 418.37,479.42 418.58,476.31 418.79,476.31 419.01,460.76 419.22,460.76 419.43,460.76 419.65,460.76 419.86,460.76 420.07,466.98 420.29,463.87 420.50,463.87 420.71,463.87 420.93,463.87 421.14,470.09 421.35,470.09 421.57,470.09 421.78,470.09 421.99,470.09 422.20,460.76 422.42,460.76 422.63,460.76 422.84,460.76 423.06,460.76 423.27,460.76 423.48,460.76 423.70,460.76 423.91,460.76 424.12,460.76 424.34,451.43 424.55,451.43 424.76,451.43 424.98,448.32 425.19,448.32 425.40,460.76 425.61,460.76 425.83,460.76 426.04,457.65 426.25,457.65 426.47,463.87 426.68,463.87 426.89,463.87 427.11,463.87 427.32,463.87 427.53,457.65 427.75,457.65 427.96,457.65 428.17,457.65 428.39,457.65 428.60,470.09 428.81,470.09 429.03,470.09 429.24,470.09 429.45,470.09 429.66,463.87 429.88,463.87 430.09,463.87 430.30,463.87 430.52,463.87 430.73,451.43 430.94,451.43 431.16,451.43 431.37,448.32 431.58,448.32 431.80,448.32 432.01,448.32 432.22,448.32 432.44,448.32 432.65,448.32 432.86,460.76 433.07,460.76 433.29,460.76 433.50,460.76 433.71,460.76 433.93,445.21 434.14,445.21 434.35,445.21 434.57,445.21 434.78,445.21 434.99,445.21 435.21,445.21 435.42,442.10 435.63,442.10 435.85,442.10 436.06,445.21 436.27,442.10 436.49,442.10 436.70,442.10 436.91,442.10 437.12,448.32 437.34,448.32 437.55,445.21 437.76,445.21 437.98,445.21 438.19,445.21 438.40,445.21 438.62,445.21 438.83,445.21 439.04,445.21 439.26,445.21 439.47,445.21 439.68,445.21 439.90,445.21 440.11,445.21 440.32,448.32 440.53,448.32 440.75,448.32 440.96,448.32 441.17,445.21 441.39,438.99 441.60,438.99 441.81,438.99 442.03,438.99 442.24,438.99 442.45,454.54 442.67,454.54 442.88,454.54 443.09,454.54 443.31,454.54 443.52,445.21 443.73,445.21 443.94,445.21 444.16,445.21 444.37,445.21 444.58,445.21 444.80,445.21 445.01,445.21 445.22,445.21 445.44,445.21 445.65,448.32 445.86,448.32 446.08,448.32 446.29,448.32 446.50,448.32 446.72,448.32 446.93,448.32 447.14,448.32 447.36,448.32 447.57,448.32 447.78,442.10 447.99,442.10 448.21,442.10 448.42,442.10 448.63,442.10 448.85,451.43 449.06,451.43 449.27,451.43 449.49,451.43 449.70,451.43 449.91,454.54 450.13,454.54 450.34,451.43 450.55,451.43 450.77,451.43 450.98,451.43 451.19,451.43 451.40,451.43 451.62,451.43 451.83,451.43 452.04,442.10 452.26,442.10 452.47,442.10 452.68,438.99 452.90,438.99 453.11,445.21 453.32,445.21 453.54,445.21 453.75,442.10 453.96,442.10 454.18,438.99 454.39,438.99 454.60,435.88 454.81,435.88 455.03,435.88 455.24,445.21 455.45,445.21 455.67,442.10 455.88,442.10 456.09,442.10 456.31,442.10 456.52,442.10 456.73,442.10 456.95,442.10 457.16,442.10 457.37,442.10 457.59,442.10 457.80,442.10 458.01,442.10 458.23,442.10 458.44,442.10 458.65,442.10 458.86,442.10 459.08,442.10 459.29,442.10 459.50,451.43 459.72,451.43 459.93,451.43 460.14,451.43 460.36,451.43 460.57,438.99 460.78,438.99 461.00,438.99 461.21,438.99 461.42,438.99 461.64,438.99 461.85,438.99 462.06,438.99 462.27,438.99 462.49,438.99 462.70,442.10 462.91,442.10 463.13,442.10 463.34,442.10 463.55,442.10 463.77,435.88 463.98,435.88 464.19,435.88 464.41,435.88 464.62,435.88 464.83,429.66 465.05,429.66 465.26,429.66 465.47,429.66 465.69,429.66 465.90,442.10 466.11,442.10 466.32,442.10 466.54,442.10 466.75,442.10 466.96,442.10 467.18,442.10 467.39,442.10 467.60,442.10 467.82,442.10 468.03,435.88 468.24,435.88 468.46,435.88 468.67,435.88 468.88,435.88 469.10,429.66 469.31,429.66 469.52,429.66 469.73,429.66 469.95,429.66 470.16,432.77 470.37,432.77 470.59,432.77 470.80,432.77 471.01,432.77 471.23,438.99 471.44,438.99 471.65,438.99 471.87,438.99 472.08,438.99 472.29,432.77 472.51,432.77 472.72,432.77 472.93,432.77 473.14,432.77 473.36,432.77 473.57,432.77 473.78,432.77 474.00,432.77 474.21,432.77 474.42,435.88 474.64,435.88 474.85,435.88 475.06,435.88 475.28,435.88 475.49,438.99 475.70,438.99 475.92,438.99 476.13,438.99 476.34,438.99 476.56,445.21 476.77,445.21 476.98,445.21 477.19,445.21 477.41,445.21 477.62,432.77 477.83,432.77 478.05,432.77 478.26,432.77 478.47,432.77 478.69,438.99 478.90,438.99 479.11,438.99 479.33,438.99 479.54,438.99 479.75,432.77 479.97,432.77 480.18,432.77 480.39,432.77 480.60,432.77 480.82,442.10 481.03,442.10 481.24,442.10 481.46,442.10 481.67,442.10 481.88,445.21 482.10,445.21 482.31,445.21 482.52,445.21 482.74,445.21 482.95,438.99 483.16,438.99 483.38,438.99 483.59,438.99 483.80,438.99 484.01,420.33 484.23,420.33 484.44,423.44 484.65,423.44 484.87,423.44 485.08,442.10 485.29,442.10 485.51,442.10 485.72,442.10 485.93,442.10 486.15,432.77 486.36,432.77 486.57,432.77 486.79,432.77 487.00,432.77 487.21,426.55 487.43,426.55 487.64,426.55 487.85,426.55 488.06,426.55 488.28,442.10 488.49,442.10 488.70,442.10 488.92,442.10 489.13,442.10 489.34,438.99 489.56,438.99 489.77,438.99 489.98,438.99 490.20,438.99 490.41,429.66 490.62,429.66 490.84,429.66 491.05,429.66 491.26,429.66 491.47,442.10 491.69,442.10 491.90,442.10 492.11,442.10 492.33,442.10 492.54,445.21 492.75,445.21 492.97,445.21 493.18,445.21 493.39,445.21 493.61,438.99 493.82,438.99 494.03,438.99 494.25,438.99 494.46,438.99 494.67,438.99 494.89,438.99 495.10,438.99 495.31,438.99 495.52,438.99 495.74,432.77 495.95,432.77 496.16,432.77 496.38,432.77 496.59,432.77 496.80,435.88 497.02,435.88 497.23,435.88 497.44,435.88 497.66,435.88 497.87,435.88 498.08,435.88 498.30,435.88 498.51,435.88 498.72,435.88 498.93,445.21 499.15,445.21 499.36,445.21 499.57,445.21 499.79,442.10 500.00,432.77 500.21,429.66 500.43,429.66 500.64,429.66 500.85,429.66 501.07,432.77 501.28,432.77 501.49,432.77 501.71,432.77 501.92,429.66 502.13,420.33 502.34,420.33 502.56,420.33 502.77,420.33 502.98,417.22 503.20,426.55 503.41,426.55 503.62,426.55 503.84,426.55 504.05,423.44 504.26,426.55 504.48,426.55 504.69,426.55 504.90,426.55 505.12,426.55 505.33,420.33 505.54,420.33 505.76,420.33 505.97,420.33 506.18,420.33 506.39,423.44 506.61,423.44 506.82,423.44 507.03,423.44 507.25,423.44 507.46,411.00 507.67,411.00 507.89,411.00 508.10,411.00 508.31,411.00 508.53,420.33 508.74,420.33 508.95,420.33 509.17,420.33 509.38,420.33 509.59,420.33 509.80,420.33 510.02,420.33 510.23,420.33 510.44,420.33 510.66,423.44 510.87,423.44 511.08,423.44 511.30,423.44 511.51,423.44 511.72,426.55 511.94,426.55 512.15,426.55 512.36,426.55 512.58,426.55 512.79,411.00 513.00,411.00 513.22,411.00 513.43,411.00 513.64,411.00 513.85,411.00 514.07,411.00 514.28,411.00 514.49,411.00 514.71,414.11 514.92,417.22 515.13,417.22 515.35,417.22 515.56,417.22 515.77,417.22 515.99,417.22 516.20,417.22 516.41,417.22 516.63,417.22 516.84,417.22 517.05,417.22 517.26,417.22 517.48,417.22 517.69,417.22 517.90,417.22 518.12,423.44 518.33,423.44 518.54,423.44 518.76,423.44 518.97,423.44 519.18,423.44 519.40,423.44 519.61,423.44 519.82,423.44 520.04,423.44 520.25,423.44 520.46,423.44 520.67,423.44 520.89,423.44 521.10,423.44 521.31,417.22 521.53,417.22 521.74,417.22 521.95,417.22 522.17,417.22 522.38,432.77 522.59,432.77 522.81,432.77 523.02,435.88 523.23,435.88 523.45,426.55 523.66,426.55 523.87,426.55 524.09,426.55 524.30,426.55 524.51,442.10 524.72,442.10 524.94,438.99 525.15,438.99 525.36,438.99 525.58,429.66 525.79,429.66 526.00,429.66 526.22,429.66 526.43,429.66 526.64,423.44 526.86,420.33 527.07,420.33 527.28,420.33 527.50,420.33 527.71,429.66 527.92,429.66 528.13,429.66 528.35,429.66 528.56,429.66 528.77,414.11 528.99,414.11 529.20,414.11 529.41,414.11 529.63,414.11 529.84,426.55 530.05,426.55 530.27,426.55 530.48,426.55 530.69,426.55 530.91,432.77 531.12,429.66 531.33,429.66 531.54,429.66 531.76,429.66 531.97,420.33 532.18,420.33 532.40,420.33 532.61,420.33 532.82,420.33 533.04,417.22 533.25,420.33 533.46,420.33 533.68,420.33 533.89,420.33 534.10,417.22 534.32,417.22 534.53,417.22 534.74,420.33 534.96,420.33 535.17,429.66 535.38,429.66 535.59,432.77 535.81,432.77 536.02,432.77 536.23,429.66 536.45,429.66 536.66,429.66 536.87,429.66 537.09,429.66 537.30,429.66 537.51,432.77 537.73,432.77 537.94,432.77 538.15,432.77 538.37,445.21 538.58,445.21 538.79,445.21 539.00,445.21 539.22,445.21 539.43,438.99 539.64,438.99 539.86,438.99 540.07,438.99 540.28,438.99 540.50,438.99 540.71,438.99 540.92,442.10 541.14,442.10 541.35,442.10 541.56,442.10 541.78,442.10 541.99,438.99 542.20,438.99 542.42,438.99 542.63,438.99 542.84,438.99 543.05,438.99 543.27,438.99 543.48,438.99 543.69,429.66 543.91,429.66 544.12,429.66 544.33,429.66 544.55,429.66 544.76,432.77 544.97,432.77 545.19,432.77 545.40,432.77 545.61,432.77 545.83,423.44 546.04,423.44 546.25,423.44 546.46,423.44 546.68,423.44 546.89,438.99 547.10,438.99 547.32,438.99 547.53,438.99 547.74,438.99 547.96,429.66 548.17,429.66 548.38,429.66 548.60,429.66 548.81,429.66 549.02,429.66 549.24,429.66 549.45,429.66 549.66,429.66 549.87,429.66 550.09,435.88 550.30,435.88 550.51,435.88 550.73,435.88 550.94,435.88 551.15,429.66 551.37,429.66 551.58,429.66 551.79,429.66 552.01,429.66 552.22,438.99 552.43,438.99 552.65,438.99 552.86,438.99 553.07,438.99 553.29,448.32 553.50,448.32 553.71,448.32 553.92,448.32 554.14,448.32 554.35,435.88 554.56,435.88 554.78,435.88 554.99,435.88 555.20,435.88 555.42,448.32 555.63,448.32 555.84,448.32 556.06,448.32 556.27,448.32 556.48,432.77 556.70,432.77 556.91,432.77 557.12,435.88 557.33,435.88 557.55,435.88 557.76,435.88 557.97,435.88 558.19,435.88 558.40,435.88 558.61,445.21 558.83,448.32 559.04,448.32 559.25,448.32 559.47,448.32 559.68,432.77 559.89,432.77 560.11,432.77 560.32,432.77 560.53,432.77 560.75,429.66 560.96,429.66 561.17,429.66 561.38,429.66 561.60,429.66 561.81,438.99 562.02,438.99 562.24,438.99 562.45,438.99 562.66,438.99 562.88,438.99 563.09,438.99 563.30,438.99 563.52,438.99 563.73,442.10 563.94,442.10 564.16,442.10 564.37,442.10 564.58,442.10 564.79,442.10 565.01,445.21 565.22,445.21 565.43,445.21 565.65,448.32 565.86,448.32 566.07,448.32 566.29,448.32 566.50,448.32 566.71,448.32 566.93,448.32 567.14,445.21 567.35,445.21 567.57,445.21 567.78,445.21 567.99,445.21 568.20,448.32 568.42,448.32 568.63,448.32 568.84,451.43 569.06,451.43 569.27,448.32 569.48,448.32 569.70,448.32 569.91,448.32 570.12,448.32 570.34,445.21 570.55,445.21 570.76,445.21 570.98,445.21 571.19,448.32 571.40,448.32 571.62,448.32 571.83,448.32 572.04,448.32 572.25,451.43 572.47,454.54 572.68,454.54 572.89,454.54 573.11,454.54 573.32,454.54 573.53,451.43 573.75,451.43 573.96,451.43 574.17,451.43 574.39,451.43 574.60,448.32 574.81,448.32 575.03,448.32 575.24,448.32 575.45,448.32 575.66,463.87 575.88,463.87 576.09,463.87 576.30,463.87 576.52,463.87 576.73,451.43 576.94,451.43 577.16,451.43 577.37,451.43 577.58,451.43 577.80,445.21 578.01,445.21 578.22,445.21 578.44,445.21 578.65,445.21 578.86,448.32 579.07,448.32 579.29,448.32 579.50,448.32 579.71,448.32 579.93,448.32 580.14,448.32 580.35,448.32 580.57,448.32 580.78,448.32 580.99,435.88 581.21,435.88 581.42,435.88 581.63,435.88 581.85,435.88 582.06,451.43 582.27,451.43 582.49,451.43 582.70,451.43 582.91,454.54 583.12,454.54 583.34,454.54 583.55,454.54 583.76,454.54 583.98,454.54 584.19,454.54 584.40,457.65 584.62,457.65 584.83,457.65 585.04,457.65 585.26,451.43 585.47,451.43 585.68,451.43 585.90,451.43 586.11,451.43 586.32,445.21 586.53,445.21 586.75,445.21 586.96,445.21 587.17,445.21 587.39,445.21 587.60,445.21 587.81,448.32 588.03,448.32 588.24,448.32 588.45,454.54 588.67,454.54 588.88,454.54 589.09,454.54 589.31,454.54 589.52,451.43 589.73,451.43 589.95,451.43 590.16,451.43 590.37,451.43 590.58,445.21 590.80,445.21 591.01,445.21 591.22,445.21 591.44,445.21 591.65,457.65 591.86,457.65 592.08,457.65 592.29,457.65 592.50,457.65 592.72,457.65 592.93,457.65 593.14,457.65 593.36,457.65 593.57,457.65 593.78,460.76 593.99,460.76 594.21,460.76 594.42,460.76 594.63,460.76 594.85,466.98 595.06,466.98 595.27,466.98 595.49,466.98 595.70,466.98 595.91,470.09 596.13,470.09 596.34,470.09 596.55,470.09 596.77,470.09 596.98,451.43 597.19,451.43 597.40,451.43 597.62,451.43 597.83,451.43 598.04,460.76 598.26,460.76 598.47,460.76 598.68,460.76 598.90,460.76 599.11,460.76 599.32,460.76 599.54,460.76 599.75,460.76 599.96,460.76 600.18,457.65 600.39,457.65 600.60,457.65 600.82,457.65 601.03,457.65 601.24,457.65 601.45,457.65 601.67,457.65 601.88,457.65 602.09,457.65 602.31,460.76 602.52,460.76 602.73,460.76 602.95,460.76 603.16,460.76 603.37,457.65 603.59,457.65 603.80,457.65 604.01,457.65 604.23,457.65 604.44,454.54 604.65,457.65 604.86,457.65 605.08,457.65 605.29,457.65 605.50,460.76 605.72,460.76 605.93,460.76 606.14,460.76 606.36,460.76 606.57,460.76 606.78,460.76 607.00,460.76 607.21,460.76 607.42,460.76 607.64,454.54 607.85,454.54 608.06,454.54 608.27,454.54 608.49,454.54 608.70,457.65 608.91,454.54 609.13,454.54 609.34,454.54 609.55,454.54 609.77,457.65 609.98,457.65 610.19,457.65 610.41,457.65 610.62,454.54 610.83,442.10 611.05,442.10 611.26,442.10 611.47,442.10 611.69,442.10 611.90,463.87 612.11,463.87 612.32,460.76 612.54,460.76 612.75,460.76 612.96,454.54 613.18,454.54 613.39,454.54 613.60,454.54 613.82,454.54 614.03,460.76 614.24,460.76 614.46,460.76 614.67,460.76 614.88,460.76 615.10,463.87 615.31,463.87 615.52,463.87 615.73,463.87 615.95,460.76 616.16,457.65 616.37,457.65 616.59,457.65 616.80,457.65 617.01,457.65 617.23,451.43 617.44,451.43 617.65,451.43 617.87,451.43 618.08,451.43 618.29,448.32 618.51,448.32 618.72,448.32 618.93,448.32 619.15,448.32 619.36,448.32 619.57,448.32 619.78,448.32 620.00,448.32 620.21,445.21 620.42,432.77 620.64,432.77 620.85,432.77 621.06,432.77 621.28,432.77 621.49,451.43 621.70,451.43 621.92,451.43 622.13,451.43 622.34,451.43 622.56,442.10 622.77,442.10 622.98,442.10 623.19,442.10 623.41,442.10 623.62,445.21 623.83,445.21 624.05,445.21 624.26,445.21 624.47,445.21 624.69,448.32 624.90,448.32 625.11,448.32 625.33,448.32 625.54,448.32 625.75,454.54 625.97,454.54 626.18,454.54 626.39,454.54 626.60,454.54 626.82,448.32 627.03,448.32 627.24,448.32 627.46,448.32 627.67,448.32 627.88,445.21 628.10,445.21 628.31,445.21 628.52,445.21 628.74,445.21 628.95,442.10 629.16,442.10 629.38,442.10 629.59,442.10 629.80,442.10 630.02,445.21 630.23,445.21 630.44,445.21 630.65,445.21 630.87,445.21 631.08,451.43 631.29,451.43 631.51,451.43 631.72,451.43 631.93,451.43 632.15,442.10 632.36,442.10 632.57,442.10 632.79,442.10 633.00,442.10 633.21,438.99 633.43,438.99 633.64,438.99 633.85,438.99 634.06,438.99 634.28,426.55 634.49,426.55 634.70,426.55 634.92,426.55 635.13,426.55 635.34,451.43 635.56,451.43 635.77,451.43 635.98,451.43 636.20,451.43 636.41,442.10 636.62,442.10 636.84,442.10 637.05,442.10 637.26,442.10 637.47,426.55 637.69,426.55 637.90,426.55 638.11,426.55 638.33,426.55 638.54,438.99 638.75,438.99 638.97,438.99 639.18,438.99 639.39,438.99 639.61,435.88 639.82,435.88 640.03,435.88 640.25,435.88 640.46,435.88 640.67,438.99 640.89,438.99 641.10,438.99 641.31,438.99 641.52,438.99 641.74,438.99 641.95,438.99 642.16,438.99 642.38,438.99 642.59,438.99 642.80,442.10 643.02,442.10 643.23,442.10 643.44,442.10 643.66,442.10 643.87,432.77 644.08,432.77 644.30,432.77 644.51,432.77 644.72,432.77 644.93,451.43 645.15,451.43 645.36,451.43 645.57,451.43 645.79,451.43 646.00,438.99 646.21,438.99 646.43,438.99 646.64,438.99 646.85,438.99 647.07,432.77 647.28,432.77 647.49,432.77 647.71,432.77 647.92,432.77 648.13,423.44 648.35,423.44 648.56,420.33 648.77,420.33 648.98,420.33 649.20,435.88 649.41,435.88 649.62,435.88 649.84,435.88 650.05,435.88 650.26,435.88 650.48,435.88 650.69,432.77 650.90,432.77 651.12,432.77 651.33,429.66 651.54,429.66 651.76,429.66 651.97,429.66 652.18,429.66 652.39,435.88 652.61,435.88 652.82,432.77 653.03,432.77 653.25,432.77 653.46,426.55 653.67,426.55 653.89,426.55 654.10,426.55 654.31,426.55 654.53,423.44 654.74,423.44 654.95,423.44 655.17,423.44 655.38,423.44 655.59,420.33 655.80,420.33 656.02,420.33 656.23,420.33 656.44,420.33 656.66,417.22 656.87,417.22 657.08,417.22 657.30,417.22 657.51,417.22 657.72,426.55 657.94,426.55 658.15,426.55 658.36,426.55 658.58,426.55 658.79,423.44 659.00,423.44 659.22,423.44 659.43,423.44 659.64,423.44 659.85,423.44 660.07,423.44 660.28,423.44 660.49,423.44 660.71,423.44 660.92,414.11 661.13,414.11 661.35,414.11 661.56,414.11 661.77,414.11 661.99,420.33 662.20,420.33 662.41,420.33 662.63,420.33 662.84,420.33 663.05,420.33 663.26,417.22 663.48,417.22 663.69,417.22 663.90,417.22 664.12,411.00 664.33,411.00 664.54,411.00 664.76,411.00 664.97,411.00 665.18,398.56 665.40,398.56 665.61,398.56 665.82,398.56 666.04,398.56 666.25,407.89 666.46,407.89 666.68,407.89 666.89,407.89 667.10,407.89 667.31,398.56 667.53,398.56 667.74,398.56 667.95,398.56 668.17,395.45 668.38,407.89 668.59,407.89 668.81,407.89 669.02,407.89 669.23,407.89 669.45,414.11 669.66,414.11 669.87,414.11 670.09,414.11 670.30,414.11 670.51,407.89 670.72,407.89 670.94,407.89 671.15,407.89 671.36,407.89 671.58,398.56 671.79,398.56 672.00,398.56 672.22,398.56 672.43,398.56 672.64,401.67 672.86,401.67 673.07,401.67 673.28,401.67 673.50,401.67 673.71,392.34 673.92,392.34 674.13,392.34 674.35,392.34 674.56,392.34 674.77,404.78 674.99,404.78 675.20,404.78 675.41,401.67 675.63,401.67 675.84,398.56 676.05,398.56 676.27,398.56 676.48,398.56 676.69,398.56 676.91,401.67 677.12,401.67 677.33,401.67 677.55,401.67 677.76,401.67 677.97,392.34 678.18,392.34 678.40,392.34 678.61,392.34 678.82,392.34 679.04,395.45 679.25,392.34 679.46,392.34 679.68,392.34 679.89,392.34 680.10,395.45 680.32,395.45 680.53,395.45 680.74,395.45 680.96,395.45 681.17,392.34 681.38,392.34 681.59,392.34 681.81,392.34 682.02,392.34 682.23,395.45 682.45,395.45 682.66,395.45 682.87,395.45 683.09,395.45 683.30,392.34 683.51,392.34 683.73,392.34 683.94,392.34 684.15,392.34 684.37,392.34 684.58,392.34 684.79,392.34 685.00,392.34 685.22,392.34 685.43,395.45 685.64,395.45 685.86,395.45 686.07,395.45 686.28,395.45 686.50,389.23 686.71,389.23 686.92,389.23 687.14,389.23 687.35,389.23 687.56,398.56 687.78,398.56 687.99,395.45 688.20,395.45 688.42,395.45 688.63,389.23 688.84,389.23 689.05,389.23 689.27,389.23 689.48,386.12 689.69,389.23 689.91,389.23 690.12,386.12 690.33,386.12 690.55,386.12 690.76,386.12 690.97,383.01 691.19,383.01 691.40,383.01 691.61,383.01 691.83,383.01 692.04,383.01 692.25,383.01 692.46,383.01 692.68,383.01 692.89,370.57 693.10,370.57 693.32,370.57 693.53,370.57 693.74,370.57 693.96,373.68 694.17,373.68 694.38,370.57 694.60,370.57 694.81,370.57 695.02,367.46 695.24,367.46 695.45,367.46 695.66,367.46 695.88,367.46 696.09,370.57 696.30,370.57 696.51,370.57 696.73,370.57 696.94,370.57 697.15,373.68 697.37,373.68 697.58,370.57 697.79,370.57 698.01,370.57 698.22,364.35 698.43,364.35 698.65,364.35 698.86,364.35 699.07,364.35 699.29,367.46 699.50,367.46 699.71,367.46 699.92,367.46 700.14,364.35 700.35,355.02 700.56,355.02 700.78,355.02 700.99,355.02 701.20,355.02 701.42,367.46 701.63,367.46 701.84,367.46 702.06,367.46 702.27,367.46 702.48,370.57 702.70,367.46 702.91,367.46 703.12,367.46 703.33,367.46 703.55,367.46 703.76,367.46 703.97,367.46 704.19,367.46 704.40,367.46 704.61,364.35 704.83,364.35 705.04,364.35 705.25,364.35 705.47,364.35 705.68,364.35 705.89,364.35 706.11,364.35 706.32,364.35 706.53,364.35 706.75,358.13 706.96,358.13 707.17,358.13 707.38,358.13 707.60,358.13 707.81,355.02 708.02,355.02 708.24,355.02 708.45,355.02 708.66,355.02 708.88,355.02 709.09,355.02 709.30,355.02 709.52,355.02 709.73,355.02 709.94,367.46 710.16,367.46 710.37,367.46 710.58,367.46 710.79,367.46 711.01,361.24 711.22,361.24 711.43,358.13 711.65,358.13 711.86,358.13 712.07,361.24 712.29,361.24 712.50,361.24 712.71,358.13 712.93,358.13 713.14,355.02 713.35,355.02 713.57,355.02 713.78,355.02 713.99,355.02 714.21,358.13 714.42,358.13 714.63,358.13 714.84,358.13 715.06,358.13 715.27,361.24 715.48,361.24 715.70,364.35 715.91,364.35 716.12,364.35 716.34,367.46 716.55,367.46 716.76,370.57 716.98,370.57 717.19,370.57 717.40,361.24 717.62,361.24 717.83,361.24 718.04,361.24 718.25,361.24 718.47,370.57 718.68,370.57 718.89,370.57 719.11,370.57 719.32,370.57 719.53,364.35 719.75,364.35 719.96,364.35 720.17,364.35 720.39,364.35 720.60,358.13 720.81,358.13 721.03,358.13 721.24,358.13 721.45,358.13 721.66,364.35 721.88,364.35 722.09,364.35 722.30,364.35 722.52,364.35 722.73,361.24 722.94,358.13 723.16,358.13 723.37,358.13 723.58,358.13 723.80,358.13 724.01,358.13 724.22,358.13 724.44,358.13 724.65,355.02 724.86,355.02 725.08,355.02 725.29,351.91 725.50,351.91 725.71,351.91 725.93,355.02 726.14,355.02 726.35,355.02 726.57,355.02 726.78,355.02 726.99,364.35 727.21,364.35 727.42,364.35 727.63,364.35 727.85,364.35 728.06,348.80 728.27,348.80 728.49,348.80 728.70,348.80 728.91,348.80 729.12,358.13 729.34,358.13 729.55,355.02 729.76,355.02 729.98,355.02 730.19,361.24 730.40,361.24 730.62,361.24 730.83,358.13 731.04,358.13 731.26,342.58 731.47,342.58 731.68,342.58 731.90,342.58 732.11,342.58 732.32,345.69 732.53,345.69 732.75,345.69 732.96,345.69 733.17,345.69 733.39,342.58 733.60,342.58 733.81,342.58 734.03,342.58 734.24,342.58 734.45,345.69 734.67,345.69 734.88,345.69 735.09,345.69 735.31,345.69 735.52,342.58 735.73,342.58 735.95,342.58 736.16,342.58 736.37,342.58 736.58,339.47 736.80,339.47 737.01,339.47 737.22,339.47 737.44,339.47 737.65,342.58 737.86,342.58 738.08,342.58 738.29,342.58 738.50,342.58 738.72,339.47 738.93,339.47 739.14,339.47 739.36,339.47 739.57,339.47 739.78,323.92 739.99,323.92 740.21,323.92 740.42,323.92 740.63,323.92 740.85,330.14 741.06,330.14 741.27,330.14 741.49,330.14 741.70,330.14 741.91,348.80 742.13,348.80 742.34,348.80 742.55,348.80 742.77,348.80 742.98,348.80 743.19,348.80 743.41,348.80 743.62,348.80 743.83,348.80 744.04,345.69 744.26,345.69 744.47,345.69 744.68,345.69 744.90,345.69 745.11,345.69 745.32,345.69 745.54,345.69 745.75,345.69 745.96,345.69 746.18,339.47 746.39,339.47 746.60,339.47 746.82,339.47 747.03,339.47 747.24,345.69 747.45,342.58 747.67,342.58 747.88,342.58 748.09,342.58 748.31,330.14 748.52,330.14 748.73,330.14 748.95,330.14 749.16,327.03 749.37,333.25 749.59,333.25 749.80,333.25 750.01,333.25 750.23,330.14 750.44,336.36 750.65,336.36 750.86,336.36 751.08,336.36 751.29,336.36 751.50,336.36 751.72,336.36 751.93,336.36 752.14,336.36 752.36,336.36 752.57,339.47 752.78,339.47 753.00,339.47 753.21,339.47 753.42,339.47 753.64,342.58 753.85,342.58 754.06,342.58 754.28,342.58 754.49,342.58 754.70,320.81 754.91,320.81 755.13,320.81 755.34,320.81 755.55,320.81 755.77,330.14 755.98,330.14 756.19,330.14 756.41,327.03 756.62,327.03 756.83,330.14 757.05,330.14 757.26,330.14 757.47,330.14 757.69,330.14 757.90,330.14 758.11,330.14 758.32,330.14 758.54,330.14 758.75,330.14 758.96,327.03 759.18,327.03 759.39,327.03 759.60,327.03 759.82,327.03 760.03,327.03 760.24,327.03 760.46,327.03 760.67,327.03 760.88,327.03 761.10,323.92 761.31,320.81 761.52,320.81 761.73,320.81 761.95,320.81 762.16,323.92 762.37,323.92 762.59,323.92 762.80,323.92 763.01,323.92 763.23,323.92 763.44,323.92 763.65,323.92 763.87,323.92 764.08,323.92 764.29,330.14 764.51,330.14 764.72,330.14 764.93,330.14 765.15,330.14 765.36,314.59 765.57,314.59 765.78,314.59 766.00,314.59 766.21,314.59 766.42,317.70 766.64,317.70 766.85,317.70 767.06,317.70 767.28,317.70 767.49,311.48 767.70,311.48 767.92,311.48 768.13,311.48 768.34,311.48 768.56,311.48 768.77,311.48 768.98,311.48 769.19,311.48 769.41,311.48 769.62,323.92 769.83,323.92 770.05,323.92 770.26,323.92 770.47,323.92 770.69,323.92 770.90,323.92 771.11,323.92 771.33,323.92 771.54,323.92 771.75,317.70 771.97,317.70 772.18,317.70 772.39,317.70 772.61,317.70 772.82,320.81 773.03,320.81 773.24,320.81 773.46,323.92 773.67,323.92 773.88,323.92 774.10,323.92 774.31,327.03 774.52,327.03 774.74,327.03 774.95,323.92 775.16,323.92 775.38,323.92 775.59,323.92 775.80,323.92 776.02,323.92 776.23,323.92 776.44,323.92 776.65,323.92 776.87,323.92 777.08,323.92 777.29,323.92 777.51,327.03 777.72,327.03 777.93,327.03 778.15,327.03 778.36,327.03 778.57,327.03 778.79,327.03 779.00,327.03 779.21,333.25 779.43,333.25 779.64,333.25 779.85,333.25 780.06,333.25 780.28,320.81 780.49,320.81 780.70,323.92 780.92,323.92 781.13,323.92 781.34,327.03 781.56,327.03 781.77,327.03 781.98,327.03 782.20,330.14 782.41,327.03 782.62,327.03 782.84,327.03 783.05,327.03 783.26,327.03 783.48,342.58 783.69,342.58 783.90,342.58 784.11,342.58 784.33,342.58 784.54,330.14 784.75,330.14 784.97,330.14 785.18,330.14 785.39,330.14 785.61,333.25 785.82,333.25 786.03,333.25 786.25,333.25 786.46,336.36 786.67,323.92 786.89,323.92 787.10,323.92 787.31,323.92 787.52,323.92 787.74,330.14 787.95,330.14 788.16,330.14 788.38,330.14 788.59,330.14 788.80,345.69 789.02,345.69 789.23,345.69 789.44,345.69 789.66,345.69 789.87,351.91 790.08,351.91 790.30,351.91 790.51,351.91 790.72,351.91 790.93,333.25 791.15,333.25 791.36,333.25 791.57,333.25 791.79,333.25 792.00,330.14 792.21,330.14 792.43,330.14 792.64,330.14 792.85,330.14 793.07,327.03 793.28,327.03 793.49,327.03 793.71,327.03 793.92,327.03 794.13,333.25 794.35,333.25 794.56,333.25 794.77,333.25 794.98,333.25 795.20,339.47 795.41,339.47 795.62,339.47 795.84,339.47 796.05,339.47 796.26,330.14 796.48,330.14 796.69,330.14 796.90,330.14 797.12,330.14 797.33,323.92 797.54,323.92 797.76,323.92 797.97,323.92 798.18,323.92 798.39,339.47 798.61,342.58 798.82,342.58 799.03,342.58 799.25,342.58 799.46,342.58 799.67,342.58 799.89,342.58 800.10,342.58 800.31,342.58 800.53,336.36 800.74,336.36 800.95,336.36 801.17,336.36 801.38,336.36 801.59,339.47 801.81,339.47 802.02,339.47 802.23,342.58 802.44,342.58 802.66,342.58 802.87,342.58 803.08,342.58 803.30,345.69 803.51,345.69 803.72,342.58 803.94,342.58 804.15,342.58 804.36,342.58 804.58,345.69 804.79,342.58 805.00,342.58 805.22,342.58 805.43,342.58 805.64,342.58 805.85,339.47 806.07,339.47 806.28,339.47 806.49,339.47 806.71,339.47 806.92,336.36 807.13,336.36 807.35,336.36 807.56,333.25 807.77,333.25 807.99,336.36 808.20,336.36 808.41,336.36 808.63,336.36 808.84,336.36 809.05,339.47 809.26,339.47 809.48,339.47 809.69,339.47 809.90,339.47 810.12,333.25 810.33,330.14 810.54,330.14 810.76,330.14 810.97,330.14 811.18,333.25 811.40,333.25 811.61,333.25 811.82,333.25 812.04,333.25 812.25,345.69 812.46,345.69 812.68,345.69 812.89,345.69 813.10,348.80 813.31,327.03 813.53,327.03 813.74,327.03 813.95,327.03 814.17,327.03 814.38,333.25 814.59,333.25 814.81,333.25 815.02,333.25 815.23,333.25 815.45,336.36 815.66,336.36 815.87,336.36 816.09,336.36 816.30,336.36 816.51,333.25 816.72,333.25 816.94,333.25 817.15,333.25 817.36,333.25 817.58,336.36 817.79,336.36 818.00,336.36 818.22,336.36 818.43,336.36 818.64,336.36 818.86,336.36 819.07,336.36 819.28,336.36 819.50,336.36 819.71,330.14 819.92,330.14 820.14,330.14 820.35,330.14 820.56,330.14 820.77,342.58 820.99,342.58 821.20,342.58 821.41,342.58 821.63,342.58 821.84,333.25 822.05,333.25 822.27,333.25 822.48,333.25 822.69,333.25 822.91,345.69 823.12,345.69 823.33,348.80 823.55,348.80 823.76,348.80 823.97,342.58 824.18,342.58 824.40,342.58 824.61,342.58 824.82,342.58 825.04,345.69 825.25,345.69 825.46,345.69 825.68,345.69 825.89,345.69 826.10,342.58 826.32,342.58 826.53,342.58 826.74,342.58 826.96,345.69 827.17,348.80 827.38,348.80 827.59,348.80 827.81,348.80 828.02,348.80 828.23,342.58 828.45,342.58 828.66,342.58 828.87,342.58 829.09,342.58 829.30,330.14" fill="none" stroke="#000099" stroke-width="3.2" stroke-linejoin="miter"/></g><path d="M62.00 566.5v-8M62.00 317.5v8M168.57 566.5v-8M168.57 317.5v8M275.14 566.5v-8M275.14 317.5v8M381.71 566.5v-8M381.71 317.5v8M488.28 566.5v-8M488.28 317.5v8M594.85 566.5v-8M594.85 317.5v8M701.42 566.5v-8M701.42 317.5v8M807.99 566.5v-8M807.99 317.5v8M62.0 566.50h8M829.3 566.50h-8M62.0 535.37h8M829.3 535.37h-8M62.0 504.25h8M829.3 504.25h-8M62.0 473.12h8M829.3 473.12h-8M62.0 442.00h8M829.3 442.00h-8M62.0 410.88h8M829.3 410.88h-8M62.0 379.75h8M829.3 379.75h-8M62.0 348.63h8M829.3 348.63h-8M62.0 317.50h8M829.3 317.50h-8" stroke="#2e2e2e" stroke-width="1.25" fill="none"/><rect x="62.0" y="317.5" width="767.3" height="249.0" fill="none" stroke="#2e2e2e" stroke-width="1.5"/><rect x="85.5" y="199.5" width="85.5" height="31" fill="none" stroke="#2e2e2e" stroke-width="1.35"/><path d="M92.4 214.8H127" stroke="#D95319" stroke-width="3.3" stroke-dasharray="13.4 5.4 3.6 4.7" fill="none"/><rect x="85.5" y="341.5" width="101" height="39" fill="none" stroke="#2e2e2e" stroke-width="1.35"/><path d="M92.4 361.1H126.8" stroke="#000099" stroke-width="3.4" fill="none"/><g font-family="Liberation Sans, sans-serif"><text x="27.86" y="259.00" font-size="14.2" fill="#262626" text-anchor="start" textLength="25.44" lengthAdjust="spacingAndGlyphs" >100</text><text x="27.86" y="223.43" font-size="14.2" fill="#262626" text-anchor="start" textLength="25.44" lengthAdjust="spacingAndGlyphs" >200</text><text x="27.86" y="187.86" font-size="14.2" fill="#262626" text-anchor="start" textLength="25.44" lengthAdjust="spacingAndGlyphs" >300</text><text x="27.86" y="152.29" font-size="14.2" fill="#262626" text-anchor="start" textLength="25.44" lengthAdjust="spacingAndGlyphs" >400</text><text x="27.86" y="116.71" font-size="14.2" fill="#262626" text-anchor="start" textLength="25.44" lengthAdjust="spacingAndGlyphs" >500</text><text x="27.86" y="81.14" font-size="14.2" fill="#262626" text-anchor="start" textLength="25.44" lengthAdjust="spacingAndGlyphs" >600</text><text x="27.86" y="45.57" font-size="14.2" fill="#262626" text-anchor="start" textLength="25.44" lengthAdjust="spacingAndGlyphs" >700</text><text x="27.86" y="10.00" font-size="14.2" fill="#262626" text-anchor="start" textLength="25.44" lengthAdjust="spacingAndGlyphs" >800</text><text x="23.62" y="571.50" font-size="14.2" fill="#262626" text-anchor="start" textLength="29.68" lengthAdjust="spacingAndGlyphs" >27.9</text><text x="36.34" y="540.37" font-size="14.2" fill="#262626" text-anchor="start" textLength="16.96" lengthAdjust="spacingAndGlyphs" >28</text><text x="23.62" y="509.25" font-size="14.2" fill="#262626" text-anchor="start" textLength="29.68" lengthAdjust="spacingAndGlyphs" >28.1</text><text x="23.62" y="478.12" font-size="14.2" fill="#262626" text-anchor="start" textLength="29.68" lengthAdjust="spacingAndGlyphs" >28.2</text><text x="23.62" y="447.00" font-size="14.2" fill="#262626" text-anchor="start" textLength="29.68" lengthAdjust="spacingAndGlyphs" >28.3</text><text x="23.62" y="415.88" font-size="14.2" fill="#262626" text-anchor="start" textLength="29.68" lengthAdjust="spacingAndGlyphs" >28.4</text><text x="23.62" y="384.75" font-size="14.2" fill="#262626" text-anchor="start" textLength="29.68" lengthAdjust="spacingAndGlyphs" >28.5</text><text x="23.62" y="353.63" font-size="14.2" fill="#262626" text-anchor="start" textLength="29.68" lengthAdjust="spacingAndGlyphs" >28.6</text><text x="23.62" y="322.50" font-size="14.2" fill="#262626" text-anchor="start" textLength="29.68" lengthAdjust="spacingAndGlyphs" >28.7</text><text x="57.36" y="275.20" font-size="14.2" fill="#262626" text-anchor="start" textLength="8.48" lengthAdjust="spacingAndGlyphs" >0</text><text x="57.36" y="587.80" font-size="14.2" fill="#262626" text-anchor="start" textLength="8.48" lengthAdjust="spacingAndGlyphs" >0</text><text x="155.45" y="275.20" font-size="14.2" fill="#262626" text-anchor="start" textLength="25.44" lengthAdjust="spacingAndGlyphs" >500</text><text x="155.45" y="587.80" font-size="14.2" fill="#262626" text-anchor="start" textLength="25.44" lengthAdjust="spacingAndGlyphs" >500</text><text x="257.78" y="275.20" font-size="14.2" fill="#262626" text-anchor="start" textLength="33.92" lengthAdjust="spacingAndGlyphs" >1000</text><text x="257.78" y="587.80" font-size="14.2" fill="#262626" text-anchor="start" textLength="33.92" lengthAdjust="spacingAndGlyphs" >1000</text><text x="364.35" y="275.20" font-size="14.2" fill="#262626" text-anchor="start" textLength="33.92" lengthAdjust="spacingAndGlyphs" >1500</text><text x="364.35" y="587.80" font-size="14.2" fill="#262626" text-anchor="start" textLength="33.92" lengthAdjust="spacingAndGlyphs" >1500</text><text x="470.92" y="275.20" font-size="14.2" fill="#262626" text-anchor="start" textLength="33.92" lengthAdjust="spacingAndGlyphs" >2000</text><text x="470.92" y="587.80" font-size="14.2" fill="#262626" text-anchor="start" textLength="33.92" lengthAdjust="spacingAndGlyphs" >2000</text><text x="577.49" y="275.20" font-size="14.2" fill="#262626" text-anchor="start" textLength="33.92" lengthAdjust="spacingAndGlyphs" >2500</text><text x="577.49" y="587.80" font-size="14.2" fill="#262626" text-anchor="start" textLength="33.92" lengthAdjust="spacingAndGlyphs" >2500</text><text x="684.06" y="275.20" font-size="14.2" fill="#262626" text-anchor="start" textLength="33.92" lengthAdjust="spacingAndGlyphs" >3000</text><text x="684.06" y="587.80" font-size="14.2" fill="#262626" text-anchor="start" textLength="33.92" lengthAdjust="spacingAndGlyphs" >3000</text><text x="790.63" y="275.20" font-size="14.2" fill="#262626" text-anchor="start" textLength="33.92" lengthAdjust="spacingAndGlyphs" >3500</text><text x="790.63" y="587.80" font-size="14.2" fill="#262626" text-anchor="start" textLength="33.92" lengthAdjust="spacingAndGlyphs" >3500</text><text x="414.00" y="296.40" font-size="15" fill="#262626" text-anchor="start" textLength="62.50" lengthAdjust="spacingAndGlyphs" >Time (s)</text><text x="414.00" y="608.80" font-size="15" fill="#262626" text-anchor="start" textLength="62.50" lengthAdjust="spacingAndGlyphs" >Time (s)</text><g transform="translate(15.6,205) rotate(-90)"><text x="0" y="0" font-size="15" fill="#262626" textLength="130.2" lengthAdjust="spacingAndGlyphs">Irradiance (W/m</text><text x="130.8" y="-6" font-size="10.5" fill="#262626" textLength="6.6" lengthAdjust="spacingAndGlyphs">2</text><text x="138.4" y="0" font-size="15" fill="#262626">)</text></g><g transform="translate(11.4,502) rotate(-90)"><text x="0" y="0" font-size="15" fill="#262626" textLength="116.8" lengthAdjust="spacingAndGlyphs">Ext. Temp. (°C)</text></g><text x="132.50" y="221.10" font-size="18.3" fill="#262626" text-anchor="start" textLength="30.00" lengthAdjust="spacingAndGlyphs" >I(k)</text><text x="132.00" y="365.20" font-size="18.3" fill="#262626" text-anchor="start" textLength="11.50" lengthAdjust="spacingAndGlyphs" >T</text><text x="144.30" y="373.80" font-size="15" fill="#262626" text-anchor="start" textLength="9.00" lengthAdjust="spacingAndGlyphs" >e</text><text x="154.50" y="365.20" font-size="18.3" fill="#262626" text-anchor="start" textLength="24.50" lengthAdjust="spacingAndGlyphs" >(k)</text></g></svg>
</body></html>
